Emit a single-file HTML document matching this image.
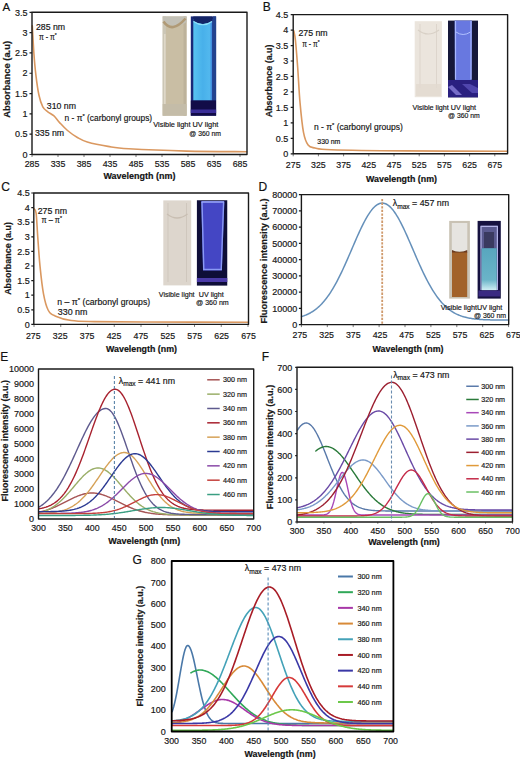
<!DOCTYPE html>
<html><head><meta charset="utf-8"><style>
html,body{margin:0;padding:0;background:#fff;}
body{width:520px;height:759px;overflow:hidden;}
svg{display:block;font-family:"Liberation Sans", sans-serif;}
</style></head><body>
<svg width="520" height="759" viewBox="0 0 520 759">
<defs>
<linearGradient id="visA" x1="0" x2="1" y1="0" y2="0"><stop offset="0" stop-color="#b9ab90"/><stop offset="0.15" stop-color="#d8ccb4"/><stop offset="0.5" stop-color="#cbbd9f"/><stop offset="1" stop-color="#bcae92"/></linearGradient>
<linearGradient id="uvA" x1="0" x2="1" y1="0" y2="0"><stop offset="0" stop-color="#58c4f0"/><stop offset="0.5" stop-color="#48b0ea"/><stop offset="0.85" stop-color="#52b8ee"/><stop offset="1" stop-color="#3a80d8"/></linearGradient>
<linearGradient id="visB" x1="0" x2="1" y1="0" y2="0"><stop offset="0" stop-color="#e2dad4"/><stop offset="0.5" stop-color="#efebe6"/><stop offset="1" stop-color="#e2dbd5"/></linearGradient>
<linearGradient id="uvB" x1="0" x2="1" y1="0" y2="0"><stop offset="0" stop-color="#6a88f0"/><stop offset="0.5" stop-color="#4a5ad0"/><stop offset="1" stop-color="#7090f0"/></linearGradient>
<linearGradient id="visC" x1="0" x2="1" y1="0" y2="0"><stop offset="0" stop-color="#d6cec4"/><stop offset="0.5" stop-color="#e2dbd2"/><stop offset="1" stop-color="#d6cfc6"/></linearGradient>
<linearGradient id="uvC" x1="0" x2="1" y1="0" y2="0"><stop offset="0" stop-color="#7088f0"/><stop offset="0.5" stop-color="#4450d0"/><stop offset="1" stop-color="#7088f0"/></linearGradient>
<linearGradient id="uvD" x1="0" x2="0" y1="0" y2="1"><stop offset="0" stop-color="#58a6be"/><stop offset="0.75" stop-color="#6ab4c8"/><stop offset="1" stop-color="#d0eef4"/></linearGradient>
</defs>
<text x="2.4" y="10.9" font-size="11.5" fill="#111" stroke="#111" stroke-width="0.18">A</text>
<text x="27.6" y="15.54" font-size="9" text-anchor="end" fill="#161616" stroke="#161616" stroke-width="0.18">3.5</text>
<text x="27.6" y="35.85" font-size="9" text-anchor="end" fill="#161616" stroke="#161616" stroke-width="0.18">3</text>
<text x="27.6" y="56.17" font-size="9" text-anchor="end" fill="#161616" stroke="#161616" stroke-width="0.18">2.5</text>
<text x="27.6" y="76.48" font-size="9" text-anchor="end" fill="#161616" stroke="#161616" stroke-width="0.18">2</text>
<text x="27.6" y="96.8" font-size="9" text-anchor="end" fill="#161616" stroke="#161616" stroke-width="0.18">1.5</text>
<text x="27.6" y="117.11" font-size="9" text-anchor="end" fill="#161616" stroke="#161616" stroke-width="0.18">1</text>
<text x="27.6" y="137.43" font-size="9" text-anchor="end" fill="#161616" stroke="#161616" stroke-width="0.18">0.5</text>
<text x="27.6" y="157.74" font-size="9" text-anchor="end" fill="#161616" stroke="#161616" stroke-width="0.18">0</text>
<path d="M29.5 12.3H32M29.5 32.61H32M29.5 52.93H32M29.5 73.24H32M29.5 93.56H32M29.5 113.87H32M29.5 134.19H32M29.5 154.5H32" stroke="#1a1a1a" stroke-width="1.2"/>
<text x="32" y="166.67" font-size="8.8" text-anchor="middle" fill="#161616" stroke="#161616" stroke-width="0.18">285</text>
<text x="58" y="166.67" font-size="8.8" text-anchor="middle" fill="#161616" stroke="#161616" stroke-width="0.18">335</text>
<text x="84" y="166.67" font-size="8.8" text-anchor="middle" fill="#161616" stroke="#161616" stroke-width="0.18">385</text>
<text x="110" y="166.67" font-size="8.8" text-anchor="middle" fill="#161616" stroke="#161616" stroke-width="0.18">435</text>
<text x="136" y="166.67" font-size="8.8" text-anchor="middle" fill="#161616" stroke="#161616" stroke-width="0.18">485</text>
<text x="162" y="166.67" font-size="8.8" text-anchor="middle" fill="#161616" stroke="#161616" stroke-width="0.18">535</text>
<text x="188" y="166.67" font-size="8.8" text-anchor="middle" fill="#161616" stroke="#161616" stroke-width="0.18">585</text>
<text x="214" y="166.67" font-size="8.8" text-anchor="middle" fill="#161616" stroke="#161616" stroke-width="0.18">635</text>
<text x="240" y="166.67" font-size="8.8" text-anchor="middle" fill="#161616" stroke="#161616" stroke-width="0.18">685</text>
<path d="M32 154.5V157M58 154.5V157M84 154.5V157M110 154.5V157M136 154.5V157M162 154.5V157M188 154.5V157M214 154.5V157M240 154.5V157" stroke="#555" stroke-width="0.8"/>
<text x="139.4" y="179" font-size="9" text-anchor="middle" font-weight="bold" textLength="72" lengthAdjust="spacingAndGlyphs" fill="#111" stroke="#111" stroke-width="0.18">Wavelength (nm)</text>
<text transform="translate(10.25 79.3) rotate(-90)" x="0" y="0" font-size="8.8" font-weight="bold" text-anchor="middle" fill="#1a1a1a" stroke="#1a1a1a" stroke-width="0.2" textLength="76.8" lengthAdjust="spacingAndGlyphs">Absorbance (a.u)</text>
<rect x="162.7" y="16.4" width="23.8" height="99.3" fill="#c9bea4"/>
<rect x="162.7" y="16.4" width="3.2" height="99.3" fill="#cbc6b6"/>
<rect x="183.5" y="16.4" width="3" height="99.3" fill="#bdb29a"/>
<rect x="164.2" y="34" width="1.3" height="70" fill="#e4dccb"/>
<path d="M162.7 16.4H186.5V22Q175 31 163 21Z" fill="#c2c0b6"/>
<path d="M163.5 21.5Q172 34 185.5 18.5" fill="none" stroke="#b09a76" stroke-width="2.6"/>
<rect x="162.7" y="104" width="23.8" height="11.7" fill="#c4bca8"/>
<rect x="190.8" y="16.4" width="25.3" height="99.3" fill="#1a2a78"/>
<rect x="213" y="16.4" width="3.1" height="84" fill="#22428e"/>
<rect x="193.3" y="19" width="19" height="81.5" fill="url(#uvA)"/>
<path d="M193.3 16.4H212.3V21Q203 27 193.3 21Z" fill="#142466"/>
<path d="M193.5 21.5Q203 28 212 21.5" fill="none" stroke="#8ee0f8" stroke-width="1.2"/>
<rect x="190.8" y="100.5" width="25.3" height="15.2" fill="#120c48"/>
<rect x="190.8" y="109.5" width="25.3" height="3.5" fill="#3a2e98"/>
<path d="M32.3 25.8C32.57 30.42 33.3 45.27 33.9 53.5C34.5 61.73 35.07 68.28 35.9 75.2C36.73 82.12 37.75 89.73 38.9 95C40.05 100.27 41.32 104 42.8 106.8C44.28 109.6 45.98 110.32 47.8 111.8C49.62 113.28 51.73 113.9 53.7 115.7C55.67 117.5 57.3 120.13 59.6 122.6C61.9 125.07 64.53 128.02 67.5 130.5C70.47 132.98 74.1 135.58 77.4 137.5C80.7 139.42 82.2 140.52 87.3 142C92.4 143.48 101.08 145.27 108 146.4C114.92 147.53 115.72 148.02 128.8 148.8C141.88 149.58 166.88 150.62 186.5 151.1C206.12 151.58 236.5 151.6 246.5 151.7" fill="none" stroke="#da9860" stroke-width="1.6" stroke-linejoin="round" stroke-linecap="round"/>
<path d="M32 12.3V154.5H247V12.3Z" fill="none" stroke="#1a1a1a" stroke-width="1.4" stroke-linejoin="round"/>
<text x="35.9" y="30" font-size="8.8" textLength="29.2" lengthAdjust="spacingAndGlyphs" fill="#161616" stroke="#161616" stroke-width="0.18">285 nm</text>
<text x="38.9" y="40" font-size="8.5" textLength="17.8" lengthAdjust="spacingAndGlyphs" fill="#161616" stroke="#161616" stroke-width="0.18">π - π<tspan font-size="6" dy="-3">*</tspan></text>
<text x="46.8" y="109" font-size="8.8" textLength="29.2" lengthAdjust="spacingAndGlyphs" fill="#161616" stroke="#161616" stroke-width="0.18">310 nm</text>
<text x="64.6" y="121" font-size="8.7" textLength="87.5" lengthAdjust="spacingAndGlyphs" fill="#161616" stroke="#161616" stroke-width="0.18">n - π<tspan font-size="6" dy="-3">*</tspan><tspan dy="3"> (carbonyl groups)</tspan></text>
<text x="34.9" y="136.2" font-size="8.8" textLength="29.2" lengthAdjust="spacingAndGlyphs" fill="#161616" stroke="#161616" stroke-width="0.18">335 nm</text>
<text x="153.3" y="127" font-size="7.4" textLength="65" lengthAdjust="spacingAndGlyphs" fill="#161616" stroke="#161616" stroke-width="0.18">Visible light UV light</text>
<text x="189.3" y="135.7" font-size="7.4" textLength="31.7" lengthAdjust="spacingAndGlyphs" fill="#161616" stroke="#161616" stroke-width="0.18">@ 360 nm</text>
<text x="262.8" y="10.8" font-size="12" fill="#111" stroke="#111" stroke-width="0.18">B</text>
<text x="288.3" y="17.84" font-size="9" text-anchor="end" fill="#161616" stroke="#161616" stroke-width="0.18">4.5</text>
<text x="288.3" y="33.31" font-size="9" text-anchor="end" fill="#161616" stroke="#161616" stroke-width="0.18">4</text>
<text x="288.3" y="48.77" font-size="9" text-anchor="end" fill="#161616" stroke="#161616" stroke-width="0.18">3.5</text>
<text x="288.3" y="64.24" font-size="9" text-anchor="end" fill="#161616" stroke="#161616" stroke-width="0.18">3</text>
<text x="288.3" y="79.71" font-size="9" text-anchor="end" fill="#161616" stroke="#161616" stroke-width="0.18">2.5</text>
<text x="288.3" y="95.17" font-size="9" text-anchor="end" fill="#161616" stroke="#161616" stroke-width="0.18">2</text>
<text x="288.3" y="110.64" font-size="9" text-anchor="end" fill="#161616" stroke="#161616" stroke-width="0.18">1.5</text>
<text x="288.3" y="126.11" font-size="9" text-anchor="end" fill="#161616" stroke="#161616" stroke-width="0.18">1</text>
<text x="288.3" y="141.57" font-size="9" text-anchor="end" fill="#161616" stroke="#161616" stroke-width="0.18">0.5</text>
<text x="288.3" y="157.04" font-size="9" text-anchor="end" fill="#161616" stroke="#161616" stroke-width="0.18">0</text>
<path d="M290.7 14.6H293.2M290.7 30.07H293.2M290.7 45.53H293.2M290.7 61H293.2M290.7 76.47H293.2M290.7 91.93H293.2M290.7 107.4H293.2M290.7 122.87H293.2M290.7 138.33H293.2M290.7 153.8H293.2" stroke="#1a1a1a" stroke-width="1.2"/>
<text x="293.2" y="167.77" font-size="8.8" text-anchor="middle" fill="#161616" stroke="#161616" stroke-width="0.18">275</text>
<text x="318.4" y="167.77" font-size="8.8" text-anchor="middle" fill="#161616" stroke="#161616" stroke-width="0.18">325</text>
<text x="343.6" y="167.77" font-size="8.8" text-anchor="middle" fill="#161616" stroke="#161616" stroke-width="0.18">375</text>
<text x="368.8" y="167.77" font-size="8.8" text-anchor="middle" fill="#161616" stroke="#161616" stroke-width="0.18">425</text>
<text x="394" y="167.77" font-size="8.8" text-anchor="middle" fill="#161616" stroke="#161616" stroke-width="0.18">475</text>
<text x="419.2" y="167.77" font-size="8.8" text-anchor="middle" fill="#161616" stroke="#161616" stroke-width="0.18">525</text>
<text x="444.4" y="167.77" font-size="8.8" text-anchor="middle" fill="#161616" stroke="#161616" stroke-width="0.18">575</text>
<text x="469.6" y="167.77" font-size="8.8" text-anchor="middle" fill="#161616" stroke="#161616" stroke-width="0.18">625</text>
<text x="494.8" y="167.77" font-size="8.8" text-anchor="middle" fill="#161616" stroke="#161616" stroke-width="0.18">675</text>
<path d="M293.2 153.8V156.3M318.4 153.8V156.3M343.6 153.8V156.3M368.8 153.8V156.3M394 153.8V156.3M419.2 153.8V156.3M444.4 153.8V156.3M469.6 153.8V156.3M494.8 153.8V156.3" stroke="#555" stroke-width="0.8"/>
<text x="401.5" y="181.5" font-size="9" text-anchor="middle" font-weight="bold" textLength="71" lengthAdjust="spacingAndGlyphs" fill="#111" stroke="#111" stroke-width="0.18">Wavelength (nm)</text>
<text transform="translate(271.6 80.9) rotate(-90)" x="0" y="0" font-size="8.8" font-weight="bold" text-anchor="middle" fill="#1a1a1a" stroke="#1a1a1a" stroke-width="0.2" textLength="72.8" lengthAdjust="spacingAndGlyphs">Absorbance (a.u)</text>
<rect x="414.7" y="21.2" width="27.2" height="76" fill="#ebe5dd"/>
<path d="M420 24V88M436.5 24V88" stroke="#ddd5cc" stroke-width="1"/>
<path d="M418 30Q428 38 439 30" fill="none" stroke="#d8d0c6" stroke-width="1.2"/>
<rect x="416" y="84" width="25" height="12" fill="#e2dad0" opacity="0.8"/>
<rect x="448" y="20.6" width="30" height="76.7" fill="#16183a"/>
<path d="M454.6 20.6H471.9L471.5 80H455Z" fill="#6878e0"/>
<path d="M455.5 21V79.5M471 21V79.5" stroke="#a8b8ff" stroke-width="1.2"/>
<path d="M456 32Q463 37 470.5 32" fill="none" stroke="#b0c0ff" stroke-width="1"/>
<rect x="448" y="80" width="30" height="17.3" fill="#2a2080"/>
<path d="M448 87L456 95H462L452 85Z" fill="#8a80d8" opacity="0.8"/>
<path d="M462 84L472 93H478V88L470 84Z" fill="#5a50b8" opacity="0.8"/>
<path d="M293.8 30.8C294.07 32.33 294.75 33.85 295.4 40C296.05 46.15 296.93 57.3 297.7 67.7C298.47 78.1 299.03 91.62 300 102.4C300.97 113.18 302.15 125.3 303.5 132.4C304.85 139.5 306.18 142.4 308.1 145C310.02 147.6 311.15 147.22 315 148C318.85 148.78 316.2 149.22 331.2 149.7C346.2 150.18 375.7 150.63 405 150.9C434.3 151.17 490 151.23 507 151.3" fill="none" stroke="#da9860" stroke-width="1.6" stroke-linejoin="round" stroke-linecap="round"/>
<path d="M293.2 14.6V153.8H507.6V14.6Z" fill="none" stroke="#1a1a1a" stroke-width="1.4" stroke-linejoin="round"/>
<text x="298.4" y="36.3" font-size="8.8" textLength="29.3" lengthAdjust="spacingAndGlyphs" fill="#161616" stroke="#161616" stroke-width="0.18">275 nm</text>
<text x="302.3" y="46.8" font-size="8.5" textLength="17.3" lengthAdjust="spacingAndGlyphs" fill="#161616" stroke="#161616" stroke-width="0.18">π - π<tspan font-size="6" dy="-3">*</tspan></text>
<text x="313.9" y="129.8" font-size="8.7" textLength="88.9" lengthAdjust="spacingAndGlyphs" fill="#161616" stroke="#161616" stroke-width="0.18">n - π<tspan font-size="6" dy="-3">*</tspan><tspan dy="3"> (carbonyl groups)</tspan></text>
<text x="317.3" y="143.8" font-size="6.8" textLength="23" lengthAdjust="spacingAndGlyphs" fill="#161616" stroke="#161616" stroke-width="0.18">330 nm</text>
<text x="412.5" y="110" font-size="7.4" textLength="63.5" lengthAdjust="spacingAndGlyphs" fill="#161616" stroke="#161616" stroke-width="0.18">Visible light UV light</text>
<text x="448" y="118.2" font-size="7.4" textLength="31.8" lengthAdjust="spacingAndGlyphs" fill="#161616" stroke="#161616" stroke-width="0.18">@ 360 nm</text>
<text x="1.3" y="190.8" font-size="12" fill="#111" stroke="#111" stroke-width="0.18">C</text>
<text x="29.8" y="196.24" font-size="9" text-anchor="end" fill="#161616" stroke="#161616" stroke-width="0.18">4.5</text>
<text x="29.8" y="210.84" font-size="9" text-anchor="end" fill="#161616" stroke="#161616" stroke-width="0.18">4</text>
<text x="29.8" y="225.44" font-size="9" text-anchor="end" fill="#161616" stroke="#161616" stroke-width="0.18">3.5</text>
<text x="29.8" y="240.04" font-size="9" text-anchor="end" fill="#161616" stroke="#161616" stroke-width="0.18">3</text>
<text x="29.8" y="254.64" font-size="9" text-anchor="end" fill="#161616" stroke="#161616" stroke-width="0.18">2.5</text>
<text x="29.8" y="269.24" font-size="9" text-anchor="end" fill="#161616" stroke="#161616" stroke-width="0.18">2</text>
<text x="29.8" y="283.84" font-size="9" text-anchor="end" fill="#161616" stroke="#161616" stroke-width="0.18">1.5</text>
<text x="29.8" y="298.44" font-size="9" text-anchor="end" fill="#161616" stroke="#161616" stroke-width="0.18">1</text>
<text x="29.8" y="313.04" font-size="9" text-anchor="end" fill="#161616" stroke="#161616" stroke-width="0.18">0.5</text>
<text x="29.8" y="327.64" font-size="9" text-anchor="end" fill="#161616" stroke="#161616" stroke-width="0.18">0</text>
<path d="M31.3 193H33.8M31.3 207.6H33.8M31.3 222.2H33.8M31.3 236.8H33.8M31.3 251.4H33.8M31.3 266H33.8M31.3 280.6H33.8M31.3 295.2H33.8M31.3 309.8H33.8M31.3 324.4H33.8" stroke="#1a1a1a" stroke-width="1.2"/>
<text x="33.3" y="338.67" font-size="8.8" text-anchor="middle" fill="#161616" stroke="#161616" stroke-width="0.18">275</text>
<text x="60.2" y="338.67" font-size="8.8" text-anchor="middle" fill="#161616" stroke="#161616" stroke-width="0.18">325</text>
<text x="87.1" y="338.67" font-size="8.8" text-anchor="middle" fill="#161616" stroke="#161616" stroke-width="0.18">375</text>
<text x="114" y="338.67" font-size="8.8" text-anchor="middle" fill="#161616" stroke="#161616" stroke-width="0.18">425</text>
<text x="140.9" y="338.67" font-size="8.8" text-anchor="middle" fill="#161616" stroke="#161616" stroke-width="0.18">475</text>
<text x="167.8" y="338.67" font-size="8.8" text-anchor="middle" fill="#161616" stroke="#161616" stroke-width="0.18">525</text>
<text x="194.7" y="338.67" font-size="8.8" text-anchor="middle" fill="#161616" stroke="#161616" stroke-width="0.18">575</text>
<text x="221.6" y="338.67" font-size="8.8" text-anchor="middle" fill="#161616" stroke="#161616" stroke-width="0.18">625</text>
<text x="248.5" y="338.67" font-size="8.8" text-anchor="middle" fill="#161616" stroke="#161616" stroke-width="0.18">675</text>
<path d="M34 324.4V326.9M60.75 324.4V326.9M87.5 324.4V326.9M114.25 324.4V326.9M141 324.4V326.9M167.75 324.4V326.9M194.5 324.4V326.9M221.25 324.4V326.9M248 324.4V326.9" stroke="#555" stroke-width="0.8"/>
<text x="141.5" y="352" font-size="9" text-anchor="middle" font-weight="bold" textLength="71" lengthAdjust="spacingAndGlyphs" fill="#111" stroke="#111" stroke-width="0.18">Wavelength (nm)</text>
<text transform="translate(10.6 258.5) rotate(-90)" x="0" y="0" font-size="8.8" font-weight="bold" text-anchor="middle" fill="#1a1a1a" stroke="#1a1a1a" stroke-width="0.2" textLength="72.7" lengthAdjust="spacingAndGlyphs">Absorbance (a.u)</text>
<rect x="163.3" y="200.4" width="27.9" height="85" fill="#ddd6cd"/>
<path d="M168 203V282M186.5 203V282" stroke="#cfc7bd" stroke-width="1"/>
<path d="M167 214Q177 222 187.5 214" fill="none" stroke="#c8beb2" stroke-width="1.3"/>
<rect x="196.9" y="200.25" width="30.35" height="85.35" fill="#0e0e38"/>
<path d="M201.25 201H224.4L221.9 270.6H203Z" fill="#4446c4"/>
<path d="M202 202L203.8 270M223.6 202L221.2 270" stroke="#8a9af4" stroke-width="1.4"/>
<path d="M201.5 202H224" stroke="#9aa8f8" stroke-width="1.5"/>
<path d="M203 269.5H222" stroke="#8a9af4" stroke-width="1.5"/>
<rect x="196.9" y="278" width="30.35" height="4" fill="#4a3aa8"/>
<path d="M33.8 208.5C34.18 209.27 35.45 208.48 36.1 213.1C36.75 217.72 37.05 227.35 37.7 236.2C38.35 245.05 39.03 256.58 40 266.2C40.97 275.82 42.15 286.6 43.5 293.9C44.85 301.2 46.18 306.33 48.1 310C50.02 313.67 51.15 314.15 55 315.9C58.85 317.65 64.65 319.55 71.2 320.5C77.75 321.45 82 321.35 94.3 321.6C106.6 321.85 119.38 321.88 145 322C170.62 322.12 230.83 322.25 248 322.3" fill="none" stroke="#da9860" stroke-width="1.6" stroke-linejoin="round" stroke-linecap="round"/>
<path d="M33.8 193V324.4H248.5V193Z" fill="none" stroke="#1a1a1a" stroke-width="1.4" stroke-linejoin="round"/>
<text x="37.7" y="213.5" font-size="8.8" textLength="29.3" lengthAdjust="spacingAndGlyphs" fill="#161616" stroke="#161616" stroke-width="0.18">275 nm</text>
<text x="41.6" y="223.3" font-size="8.5" textLength="20.4" lengthAdjust="spacingAndGlyphs" fill="#161616" stroke="#161616" stroke-width="0.18">π – π<tspan font-size="6" dy="-3">*</tspan></text>
<text x="57.3" y="305.2" font-size="8.7" fill="#161616" stroke="#161616" stroke-width="0.18">n – π<tspan font-size="6" dy="-3">*</tspan><tspan dy="3"> (carbonyl groups)</tspan></text>
<text x="57.8" y="314.9" font-size="8.8" textLength="29.6" lengthAdjust="spacingAndGlyphs" fill="#161616" stroke="#161616" stroke-width="0.18">330 nm</text>
<text x="158.8" y="296.5" font-size="7.4" textLength="35.8" lengthAdjust="spacingAndGlyphs" fill="#161616" stroke="#161616" stroke-width="0.18">Visible light</text>
<text x="198.8" y="296.5" font-size="7.4" textLength="25" lengthAdjust="spacingAndGlyphs" fill="#161616" stroke="#161616" stroke-width="0.18">UV light</text>
<text x="196" y="304.7" font-size="7.4" textLength="32.7" lengthAdjust="spacingAndGlyphs" fill="#161616" stroke="#161616" stroke-width="0.18">@ 360 nm</text>
<text x="258.6" y="190.8" font-size="12" fill="#111" stroke="#111" stroke-width="0.18">D</text>
<text x="297.3" y="197.84" font-size="9" text-anchor="end" fill="#161616" stroke="#161616" stroke-width="0.18">80000</text>
<text x="297.3" y="214.09" font-size="9" text-anchor="end" fill="#161616" stroke="#161616" stroke-width="0.18">70000</text>
<text x="297.3" y="230.34" font-size="9" text-anchor="end" fill="#161616" stroke="#161616" stroke-width="0.18">60000</text>
<text x="297.3" y="246.59" font-size="9" text-anchor="end" fill="#161616" stroke="#161616" stroke-width="0.18">50000</text>
<text x="297.3" y="262.84" font-size="9" text-anchor="end" fill="#161616" stroke="#161616" stroke-width="0.18">40000</text>
<text x="297.3" y="279.09" font-size="9" text-anchor="end" fill="#161616" stroke="#161616" stroke-width="0.18">30000</text>
<text x="297.3" y="295.34" font-size="9" text-anchor="end" fill="#161616" stroke="#161616" stroke-width="0.18">20000</text>
<text x="297.3" y="311.59" font-size="9" text-anchor="end" fill="#161616" stroke="#161616" stroke-width="0.18">10000</text>
<text x="297.3" y="327.84" font-size="9" text-anchor="end" fill="#161616" stroke="#161616" stroke-width="0.18">0</text>
<path d="M298.9 194.6H301.4M298.9 210.85H301.4M298.9 227.1H301.4M298.9 243.35H301.4M298.9 259.6H301.4M298.9 275.85H301.4M298.9 292.1H301.4M298.9 308.35H301.4M298.9 324.6H301.4" stroke="#1a1a1a" stroke-width="1.2"/>
<text x="299.9" y="338.37" font-size="8.8" text-anchor="middle" fill="#161616" stroke="#161616" stroke-width="0.18">275</text>
<text x="326.59" y="338.37" font-size="8.8" text-anchor="middle" fill="#161616" stroke="#161616" stroke-width="0.18">325</text>
<text x="353.28" y="338.37" font-size="8.8" text-anchor="middle" fill="#161616" stroke="#161616" stroke-width="0.18">375</text>
<text x="379.97" y="338.37" font-size="8.8" text-anchor="middle" fill="#161616" stroke="#161616" stroke-width="0.18">425</text>
<text x="406.66" y="338.37" font-size="8.8" text-anchor="middle" fill="#161616" stroke="#161616" stroke-width="0.18">475</text>
<text x="433.35" y="338.37" font-size="8.8" text-anchor="middle" fill="#161616" stroke="#161616" stroke-width="0.18">525</text>
<text x="460.04" y="338.37" font-size="8.8" text-anchor="middle" fill="#161616" stroke="#161616" stroke-width="0.18">575</text>
<text x="486.73" y="338.37" font-size="8.8" text-anchor="middle" fill="#161616" stroke="#161616" stroke-width="0.18">625</text>
<text x="513.42" y="338.37" font-size="8.8" text-anchor="middle" fill="#161616" stroke="#161616" stroke-width="0.18">675</text>
<path d="M301.4 324.6V327.1M327.3 324.6V327.1M353.2 324.6V327.1M379.1 324.6V327.1M405 324.6V327.1M430.9 324.6V327.1M456.8 324.6V327.1M482.7 324.6V327.1M508.6 324.6V327.1" stroke="#555" stroke-width="0.8"/>
<text x="408" y="351.5" font-size="9" text-anchor="middle" font-weight="bold" textLength="71" lengthAdjust="spacingAndGlyphs" fill="#111" stroke="#111" stroke-width="0.18">Wavelength (nm)</text>
<text transform="translate(267 260.9) rotate(-90)" x="0" y="0" font-size="8.8" font-weight="bold" text-anchor="middle" fill="#1a1a1a" stroke="#1a1a1a" stroke-width="0.2" textLength="125" lengthAdjust="spacingAndGlyphs">Fluorescence intensity (a.u.)</text>
<rect x="449.2" y="220.9" width="20.7" height="77.7" fill="#c9c2b4"/>
<rect x="451.8" y="223" width="15.5" height="28" fill="#e6e4e0"/>
<path d="M452 250Q459.5 254 467.2 250V253H452Z" fill="#6a3a20"/>
<rect x="452" y="252.5" width="15.2" height="44.5" fill="#a2622a"/>
<rect x="477.6" y="220.9" width="23.2" height="77.7" fill="#161240"/>
<rect x="480.6" y="225.7" width="17.2" height="23" fill="#5a5a90"/>
<rect x="484" y="232" width="10" height="16" fill="#3a3a60"/>
<path d="M481 226V290M497.4 226V290M480.6 226.3H497.8" stroke="#b4b4e8" stroke-width="1.2"/>
<rect x="481.6" y="248.2" width="15.2" height="42" fill="url(#uvD)"/>
<rect x="478.5" y="290.5" width="21.5" height="6" fill="#3e2e8a" opacity="0.9"/>
<path d="M301.6 316.57L302.6 316.25L303.6 315.91L304.6 315.54L305.6 315.15L306.6 314.72L307.6 314.27L308.6 313.79L309.6 313.27L310.6 312.72L311.6 312.13L312.6 311.51L313.6 310.84L314.6 310.14L315.6 309.39L316.6 308.6L317.6 307.77L318.6 306.89L319.6 305.96L320.6 304.98L321.6 303.95L322.6 302.87L323.6 301.74L324.6 300.56L325.6 299.32L326.6 298.02L327.6 296.67L328.6 295.27L329.6 293.8L330.6 292.29L331.6 290.71L332.6 289.08L333.6 287.4L334.6 285.66L335.6 283.87L336.6 282.02L337.6 280.13L338.6 278.18L339.6 276.19L340.6 274.15L341.6 272.07L342.6 269.95L343.6 267.79L344.6 265.6L345.6 263.37L346.6 261.12L347.6 258.85L348.6 256.55L349.6 254.25L350.6 251.93L351.6 249.6L352.6 247.27L353.6 244.95L354.6 242.64L355.6 240.34L356.6 238.06L357.6 235.81L358.6 233.59L359.6 231.4L360.6 229.26L361.6 227.17L362.6 225.13L363.6 223.15L364.6 221.23L365.6 219.39L366.6 217.62L367.6 215.93L368.6 214.33L369.6 212.82L370.6 211.4L371.6 210.08L372.6 208.87L373.6 207.76L374.6 206.77L375.6 205.89L376.6 205.13L377.6 204.48L378.6 203.96L379.6 203.56L380.6 203.28L381.6 203.13L382.6 203.11L383.6 203.21L384.6 203.43L385.6 203.78L386.6 204.26L387.6 204.85L388.6 205.57L389.6 206.4L390.6 207.35L391.6 208.41L392.6 209.58L393.6 210.86L394.6 212.24L395.6 213.71L396.6 215.28L397.6 216.93L398.6 218.67L399.6 220.49L400.6 222.37L401.6 224.33L402.6 226.35L403.6 228.42L404.6 230.54L405.6 232.71L406.6 234.92L407.6 237.16L408.6 239.43L409.6 241.72L410.6 244.03L411.6 246.35L412.6 248.67L413.6 251L414.6 253.32L415.6 255.63L416.6 257.93L417.6 260.22L418.6 262.48L419.6 264.71L420.6 266.92L421.6 269.09L422.6 271.23L423.6 273.32L424.6 275.38L425.6 277.39L426.6 279.35L427.6 281.27L428.6 283.14L429.6 284.95L430.6 286.71L431.6 288.42L432.6 290.07L433.6 291.66L434.6 293.2L435.6 294.69L436.6 296.12L437.6 297.49L438.6 298.8L439.6 300.07L440.6 301.27L441.6 302.43L442.6 303.53L443.6 304.57L444.6 305.57L445.6 306.52L446.6 307.42L447.6 308.27L448.6 309.08L449.6 309.85L450.6 310.57L451.6 311.25L452.6 311.89L453.6 312.49L454.6 313.05L455.6 313.58L456.6 314.08L457.6 314.55L458.6 314.98L459.6 315.39L460.6 315.76L461.6 316.12L462.6 316.44L463.6 316.75L464.6 317.03L465.6 317.29L466.6 317.53L467.6 317.76L468.6 317.96L469.6 318.15L470.6 318.33L471.6 318.49L472.6 318.64L473.6 318.77L474.6 318.9L475.6 319.01L476.6 319.12L477.6 319.21L478.6 319.3L479.6 319.38L480.6 319.45L481.6 319.52L482.6 319.58L483.6 319.63L484.6 319.68L485.6 319.72L486.6 319.76L487.6 319.8L488.6 319.83L489.6 319.86L490.6 319.89L491.6 319.91L492.6 319.93L493.6 319.95L494.6 319.97L495.6 319.98L496.6 320L497.6 320.01L498.6 320.02L499.6 320.03L500.6 320.04L501.6 320.04L502.6 320.05L503.6 320.06L504.6 320.06L505.6 320.07L506.6 320.07L507.6 320.07L508.5 320.08" fill="none" stroke="#6590ba" stroke-width="1.5" stroke-linejoin="round" stroke-linecap="round"/>
<path d="M382.2 199V324" stroke="#cf9a6c" stroke-width="1.8" stroke-dasharray="2.3 1.3"/>
<path d="M301.4 194.6V324.6H508.7V194.6Z" fill="none" stroke="#1a1a1a" stroke-width="1.4" stroke-linejoin="round"/>
<text x="392.8" y="206" font-size="8.8" fill="#161616" stroke="#161616" stroke-width="0.18">λ<tspan font-size="6.6" dy="2.5">max</tspan><tspan dy="-2.5"> = 457 nm</tspan></text>
<text x="440.7" y="309.5" font-size="7.4" textLength="61.5" lengthAdjust="spacingAndGlyphs" fill="#161616" stroke="#161616" stroke-width="0.18">Visible lightUV light</text>
<text x="473.9" y="317.8" font-size="7.4" textLength="32.2" lengthAdjust="spacingAndGlyphs" fill="#161616" stroke="#161616" stroke-width="0.18">@ 360 nm</text>
<text x="0.2" y="361" font-size="12" fill="#111" stroke="#111" stroke-width="0.18">E</text>
<text x="34" y="372.24" font-size="9" text-anchor="end" fill="#161616" stroke="#161616" stroke-width="0.18">10000</text>
<text x="34" y="387.24" font-size="9" text-anchor="end" fill="#161616" stroke="#161616" stroke-width="0.18">9000</text>
<text x="34" y="402.24" font-size="9" text-anchor="end" fill="#161616" stroke="#161616" stroke-width="0.18">8000</text>
<text x="34" y="417.24" font-size="9" text-anchor="end" fill="#161616" stroke="#161616" stroke-width="0.18">7000</text>
<text x="34" y="432.24" font-size="9" text-anchor="end" fill="#161616" stroke="#161616" stroke-width="0.18">6000</text>
<text x="34" y="447.24" font-size="9" text-anchor="end" fill="#161616" stroke="#161616" stroke-width="0.18">5000</text>
<text x="34" y="462.24" font-size="9" text-anchor="end" fill="#161616" stroke="#161616" stroke-width="0.18">4000</text>
<text x="34" y="477.24" font-size="9" text-anchor="end" fill="#161616" stroke="#161616" stroke-width="0.18">3000</text>
<text x="34" y="492.24" font-size="9" text-anchor="end" fill="#161616" stroke="#161616" stroke-width="0.18">2000</text>
<text x="34" y="507.24" font-size="9" text-anchor="end" fill="#161616" stroke="#161616" stroke-width="0.18">1000</text>
<text x="34" y="522.24" font-size="9" text-anchor="end" fill="#161616" stroke="#161616" stroke-width="0.18">0</text>
<text x="38.5" y="531.17" font-size="8.8" text-anchor="middle" fill="#161616" stroke="#161616" stroke-width="0.18">300</text>
<text x="65.4" y="531.17" font-size="8.8" text-anchor="middle" fill="#161616" stroke="#161616" stroke-width="0.18">350</text>
<text x="92.3" y="531.17" font-size="8.8" text-anchor="middle" fill="#161616" stroke="#161616" stroke-width="0.18">400</text>
<text x="119.2" y="531.17" font-size="8.8" text-anchor="middle" fill="#161616" stroke="#161616" stroke-width="0.18">450</text>
<text x="146.1" y="531.17" font-size="8.8" text-anchor="middle" fill="#161616" stroke="#161616" stroke-width="0.18">500</text>
<text x="173" y="531.17" font-size="8.8" text-anchor="middle" fill="#161616" stroke="#161616" stroke-width="0.18">550</text>
<text x="199.9" y="531.17" font-size="8.8" text-anchor="middle" fill="#161616" stroke="#161616" stroke-width="0.18">600</text>
<text x="226.8" y="531.17" font-size="8.8" text-anchor="middle" fill="#161616" stroke="#161616" stroke-width="0.18">650</text>
<text x="253.7" y="531.17" font-size="8.8" text-anchor="middle" fill="#161616" stroke="#161616" stroke-width="0.18">700</text>
<text x="144.3" y="543.7" font-size="9" text-anchor="middle" font-weight="bold" textLength="72" lengthAdjust="spacingAndGlyphs" fill="#111" stroke="#111" stroke-width="0.18">Wavelength (nm)</text>
<text transform="translate(8.45 440.7) rotate(-90)" x="0" y="0" font-size="8.8" font-weight="bold" text-anchor="middle" fill="#1a1a1a" stroke="#1a1a1a" stroke-width="0.2" textLength="121.5" lengthAdjust="spacingAndGlyphs">Fluorescence intensity (a.u.)</text>
<path d="M39 512.25L40 512.02L41 511.79L42 511.54L43 511.27L44 511L45 510.71L46 510.4L47 510.08L48 509.75L49 509.4L50 509.03L51 508.65L52 508.26L53 507.86L54 507.44L55 507.01L56 506.56L57 506.11L58 505.64L59 505.17L60 504.68L61 504.19L62 503.69L63 503.19L64 502.68L65 502.17L66 501.66L67 501.14L68 500.63L69 500.12L70 499.62L71 499.12L72 498.63L73 498.16L74 497.69L75 497.23L76 496.8L77 496.37L78 495.97L79 495.59L80 495.22L81 494.88L82 494.57L83 494.28L84 494.02L85 493.78L86 493.58L87 493.4L88 493.26L89 493.15L90 493.06L91 493.02L92 493L93 493.02L94 493.06L95 493.15L96 493.26L97 493.4L98 493.58L99 493.78L100 494.02L101 494.28L102 494.57L103 494.88L104 495.22L105 495.59L106 495.97L107 496.37L108 496.8L109 497.23L110 497.69L111 498.16L112 498.63L113 499.12L114 499.62L115 500.12L116 500.63L117 501.14L118 501.66L119 502.17L120 502.68L121 503.19L122 503.69L123 504.19L124 504.68L125 505.17L126 505.64L127 506.11L128 506.56L129 507.01L130 507.44L131 507.86L132 508.26L133 508.65L134 509.03L135 509.4L136 509.75L137 510.08L138 510.4L139 510.71L140 511L141 511.27L142 511.54L143 511.79L144 512.02L145 512.25L146 512.45L147 512.65L148 512.84L149 513.01L150 513.17L151 513.32L152 513.47L153 513.6L154 513.72L155 513.83L156 513.94L157 514.03L158 514.12L159 514.2L160 514.28L161 514.35L162 514.41L163 514.47L164 514.52L165 514.57L166 514.62L167 514.66L168 514.69L169 514.73L170 514.76L171 514.78L172 514.81L173 514.83L174 514.85L175 514.87L176 514.88L177 514.89L178 514.91L179 514.92L180 514.93L181 514.94L182 514.94L183 514.95L184 514.96L185 514.96L186 514.97L187 514.97L188 514.98L189 514.98L190 514.98L191 514.98L192 514.99L193 514.99L194 514.99L195 514.99L196 514.99L197 514.99L198 514.99L199 515L200 515L201 515L202 515L203 515L204 515L205 515L206 515L207 515L208 515L209 515L210 515L211 515L212 515L213 515L214 515L215 515L216 515L217 515L218 515L219 515L220 515L221 515L222 515L223 515L224 515L225 515L226 515L227 515L228 515L229 515L230 515L231 515L232 515L233 515L234 515L235 515L236 515L237 515L238 515L239 515L240 515L241 515L242 515L243 515L244 515L245 515L246 515L247 515L248 515L249 515L250 515L251 515L252 515L253 515L253.2 515" fill="none" stroke="#a65454" stroke-width="1.4" stroke-linejoin="round" stroke-linecap="round"/>
<path d="M39 512.71L40 512.47L41 512.2L42 511.91L43 511.6L44 511.26L45 510.9L46 510.51L47 510.08L48 509.63L49 509.15L50 508.64L51 508.09L52 507.51L53 506.9L54 506.25L55 505.56L56 504.84L57 504.08L58 503.28L59 502.45L60 501.58L61 500.68L62 499.74L63 498.77L64 497.77L65 496.74L66 495.68L67 494.59L68 493.48L69 492.35L70 491.2L71 490.04L72 488.86L73 487.68L74 486.49L75 485.31L76 484.12L77 482.95L78 481.79L79 480.64L80 479.52L81 478.43L82 477.37L83 476.34L84 475.35L85 474.41L86 473.52L87 472.69L88 471.91L89 471.19L90 470.54L91 469.96L92 469.45L93 469.01L94 468.65L95 468.37L96 468.16L97 468.04L98 468L99 468.04L100 468.16L101 468.37L102 468.65L103 469.01L104 469.45L105 469.96L106 470.54L107 471.19L108 471.91L109 472.69L110 473.52L111 474.41L112 475.35L113 476.34L114 477.37L115 478.43L116 479.52L117 480.64L118 481.79L119 482.95L120 484.12L121 485.31L122 486.49L123 487.68L124 488.86L125 490.04L126 491.2L127 492.35L128 493.48L129 494.59L130 495.68L131 496.74L132 497.77L133 498.77L134 499.74L135 500.68L136 501.58L137 502.45L138 503.28L139 504.08L140 504.84L141 505.56L142 506.25L143 506.9L144 507.51L145 508.09L146 508.64L147 509.15L148 509.63L149 510.08L150 510.51L151 510.9L152 511.26L153 511.6L154 511.91L155 512.2L156 512.47L157 512.71L158 512.93L159 513.14L160 513.33L161 513.5L162 513.66L163 513.8L164 513.93L165 514.05L166 514.15L167 514.25L168 514.33L169 514.41L170 514.48L171 514.54L172 514.59L173 514.64L174 514.69L175 514.73L176 514.76L177 514.79L178 514.82L179 514.84L180 514.86L181 514.88L182 514.9L183 514.91L184 514.92L185 514.93L186 514.94L187 514.95L188 514.96L189 514.96L190 514.97L191 514.97L192 514.98L193 514.98L194 514.98L195 514.99L196 514.99L197 514.99L198 514.99L199 514.99L200 514.99L201 515L202 515L203 515L204 515L205 515L206 515L207 515L208 515L209 515L210 515L211 515L212 515L213 515L214 515L215 515L216 515L217 515L218 515L219 515L220 515L221 515L222 515L223 515L224 515L225 515L226 515L227 515L228 515L229 515L230 515L231 515L232 515L233 515L234 515L235 515L236 515L237 515L238 515L239 515L240 515L241 515L242 515L243 515L244 515L245 515L246 515L247 515L248 515L249 515L250 515L251 515L252 515L253 515L253.2 515" fill="none" stroke="#9aae68" stroke-width="1.4" stroke-linejoin="round" stroke-linecap="round"/>
<path d="M39 507.03L40 506.42L41 505.77L42 505.07L43 504.34L44 503.56L45 502.73L46 501.85L47 500.93L48 499.96L49 498.93L50 497.85L51 496.72L52 495.53L53 494.29L54 493L55 491.64L56 490.24L57 488.77L58 487.25L59 485.67L60 484.04L61 482.36L62 480.62L63 478.83L64 476.99L65 475.1L66 473.17L67 471.19L68 469.17L69 467.12L70 465.03L71 462.9L72 460.76L73 458.59L74 456.4L75 454.19L76 451.98L77 449.76L78 447.55L79 445.34L80 443.14L81 440.96L82 438.81L83 436.68L84 434.59L85 432.54L86 430.54L87 428.59L88 426.7L89 424.87L90 423.12L91 421.44L92 419.85L93 418.34L94 416.92L95 415.6L96 414.38L97 413.27L98 412.27L99 411.37L100 410.6L101 409.94L102 409.41L103 408.99L104 408.7L105 408.54L106 408.5L107 408.66L108 409.03L109 409.62L110 410.41L111 411.42L112 412.63L113 414.03L114 415.61L115 417.37L116 419.3L117 421.38L118 423.61L119 425.96L120 428.43L121 431.01L122 433.67L123 436.41L124 439.22L125 442.07L126 444.96L127 447.87L128 450.79L129 453.71L130 456.62L131 459.5L132 462.34L133 465.14L134 467.89L135 470.57L136 473.18L137 475.72L138 478.18L139 480.55L140 482.84L141 485.03L142 487.12L143 489.12L144 491.02L145 492.83L146 494.54L147 496.15L148 497.66L149 499.08L150 500.41L151 501.66L152 502.81L153 503.89L154 504.88L155 505.8L156 506.65L157 507.43L158 508.15L159 508.8L160 509.4L161 509.95L162 510.44L163 510.89L164 511.3L165 511.66L166 511.99L167 512.29L168 512.55L169 512.79L170 513L171 513.19L172 513.35L173 513.5L174 513.63L175 513.75L176 513.85L177 513.94L178 514.01L179 514.08L180 514.14L181 514.19L182 514.24L183 514.28L184 514.31L185 514.34L186 514.36L187 514.38L188 514.4L189 514.42L190 514.43L191 514.44L192 514.45L193 514.46L194 514.47L195 514.47L196 514.48L197 514.48L198 514.48L199 514.49L200 514.49L201 514.49L202 514.49L203 514.49L204 514.5L205 514.5L206 514.5L207 514.5L208 514.5L209 514.5L210 514.5L211 514.5L212 514.5L213 514.5L214 514.5L215 514.5L216 514.5L217 514.5L218 514.5L219 514.5L220 514.5L221 514.5L222 514.5L223 514.5L224 514.5L225 514.5L226 514.5L227 514.5L228 514.5L229 514.5L230 514.5L231 514.5L232 514.5L233 514.5L234 514.5L235 514.5L236 514.5L237 514.5L238 514.5L239 514.5L240 514.5L241 514.5L242 514.5L243 514.5L244 514.5L245 514.5L246 514.5L247 514.5L248 514.5L249 514.5L250 514.5L251 514.5L252 514.5L253 514.5L253.2 514.5" fill="none" stroke="#5e5a8e" stroke-width="1.4" stroke-linejoin="round" stroke-linecap="round"/>
<path d="M39 508.77L40 508.6L41 508.4L42 508.19L43 507.95L44 507.69L45 507.4L46 507.09L47 506.74L48 506.37L49 505.95L50 505.5L51 505.01L52 504.48L53 503.9L54 503.28L55 502.6L56 501.88L57 501.09L58 500.25L59 499.35L60 498.38L61 497.35L62 496.24L63 495.07L64 493.82L65 492.5L66 491.1L67 489.62L68 488.06L69 486.42L70 484.7L71 482.89L72 481L73 479.03L74 476.98L75 474.84L76 472.63L77 470.34L78 467.97L79 465.53L80 463.03L81 460.46L82 457.83L83 455.14L84 452.41L85 449.63L86 446.82L87 443.98L88 441.12L89 438.25L90 435.37L91 432.5L92 429.64L93 426.8L94 424L95 421.24L96 418.53L97 415.88L98 413.31L99 410.82L100 408.42L101 406.13L102 403.95L103 401.88L104 399.95L105 398.16L106 396.51L107 395.01L108 393.67L109 392.5L110 391.5L111 390.68L112 390.03L113 389.57L114 389.29L115 389.2L116 389.3L117 389.62L118 390.14L119 390.87L120 391.8L121 392.92L122 394.24L123 395.74L124 397.42L125 399.26L126 401.26L127 403.42L128 405.71L129 408.13L130 410.67L131 413.31L132 416.05L133 418.86L134 421.75L135 424.7L136 427.69L137 430.71L138 433.75L139 436.81L140 439.87L141 442.91L142 445.94L143 448.93L144 451.89L145 454.8L146 457.66L147 460.46L148 463.18L149 465.84L150 468.42L151 470.92L152 473.33L153 475.65L154 477.89L155 480.03L156 482.08L157 484.03L158 485.89L159 487.66L160 489.34L161 490.92L162 492.42L163 493.82L164 495.15L165 496.39L166 497.55L167 498.63L168 499.64L169 500.57L170 501.44L171 502.25L172 502.99L173 503.67L174 504.31L175 504.88L176 505.41L177 505.9L178 506.34L179 506.74L180 507.11L181 507.44L182 507.74L183 508.01L184 508.26L185 508.48L186 508.68L187 508.86L188 509.01L189 509.16L190 509.28L191 509.4L192 509.5L193 509.58L194 509.66L195 509.73L196 509.79L197 509.85L198 509.89L199 509.94L200 509.97L201 510L202 510.03L203 510.05L204 510.08L205 510.09L206 510.11L207 510.12L208 510.13L209 510.14L210 510.15L211 510.16L212 510.17L213 510.17L214 510.18L215 510.18L216 510.18L217 510.19L218 510.19L219 510.19L220 510.19L221 510.19L222 510.19L223 510.2L224 510.2L225 510.2L226 510.2L227 510.2L228 510.2L229 510.2L230 510.2L231 510.2L232 510.2L233 510.2L234 510.2L235 510.2L236 510.2L237 510.2L238 510.2L239 510.2L240 510.2L241 510.2L242 510.2L243 510.2L244 510.2L245 510.2L246 510.2L247 510.2L248 510.2L249 510.2L250 510.2L251 510.2L252 510.2L253 510.2L253.2 510.2" fill="none" stroke="#a8222f" stroke-width="1.4" stroke-linejoin="round" stroke-linecap="round"/>
<path d="M39 513.32L40 513.29L41 513.26L42 513.23L43 513.19L44 513.14L45 513.1L46 513.04L47 512.98L48 512.91L49 512.84L50 512.75L51 512.66L52 512.56L53 512.44L54 512.32L55 512.18L56 512.02L57 511.85L58 511.67L59 511.47L60 511.24L61 511L62 510.74L63 510.45L64 510.14L65 509.8L66 509.44L67 509.05L68 508.62L69 508.17L70 507.68L71 507.16L72 506.6L73 506.01L74 505.38L75 504.7L76 503.99L77 503.24L78 502.44L79 501.6L80 500.72L81 499.79L82 498.82L83 497.81L84 496.76L85 495.66L86 494.52L87 493.34L88 492.12L89 490.86L90 489.57L91 488.24L92 486.89L93 485.5L94 484.09L95 482.66L96 481.21L97 479.75L98 478.28L99 476.8L100 475.32L101 473.84L102 472.38L103 470.92L104 469.49L105 468.08L106 466.7L107 465.36L108 464.05L109 462.79L110 461.59L111 460.44L112 459.35L113 458.32L114 457.37L115 456.49L116 455.69L117 454.98L118 454.35L119 453.81L120 453.35L121 453L122 452.74L123 452.57L124 452.5L125 452.54L126 452.69L127 452.97L128 453.36L129 453.87L130 454.49L131 455.22L132 456.06L133 456.99L134 458.02L135 459.14L136 460.34L137 461.61L138 462.96L139 464.37L140 465.83L141 467.34L142 468.89L143 470.47L144 472.08L145 473.71L146 475.35L147 476.99L148 478.64L149 480.27L150 481.89L151 483.49L152 485.07L153 486.61L154 488.12L155 489.6L156 491.03L157 492.42L158 493.76L159 495.06L160 496.3L161 497.49L162 498.63L163 499.71L164 500.74L165 501.72L166 502.64L167 503.51L168 504.33L169 505.1L170 505.82L171 506.49L172 507.11L173 507.69L174 508.23L175 508.73L176 509.19L177 509.61L178 510L179 510.36L180 510.68L181 510.98L182 511.25L183 511.49L184 511.72L185 511.92L186 512.1L187 512.26L188 512.41L189 512.54L190 512.65L191 512.76L192 512.85L193 512.93L194 513L195 513.07L196 513.12L197 513.17L198 513.22L199 513.26L200 513.29L201 513.32L202 513.35L203 513.37L204 513.39L205 513.4L206 513.42L207 513.43L208 513.44L209 513.45L210 513.46L211 513.46L212 513.47L213 513.47L214 513.48L215 513.48L216 513.49L217 513.49L218 513.49L219 513.49L220 513.49L221 513.49L222 513.5L223 513.5L224 513.5L225 513.5L226 513.5L227 513.5L228 513.5L229 513.5L230 513.5L231 513.5L232 513.5L233 513.5L234 513.5L235 513.5L236 513.5L237 513.5L238 513.5L239 513.5L240 513.5L241 513.5L242 513.5L243 513.5L244 513.5L245 513.5L246 513.5L247 513.5L248 513.5L249 513.5L250 513.5L251 513.5L252 513.5L253 513.5L253.2 513.5" fill="none" stroke="#d6a258" stroke-width="1.4" stroke-linejoin="round" stroke-linecap="round"/>
<path d="M39 511.68L40 511.68L41 511.67L42 511.67L43 511.66L44 511.66L45 511.65L46 511.64L47 511.63L48 511.62L49 511.61L50 511.59L51 511.57L52 511.55L53 511.53L54 511.51L55 511.48L56 511.44L57 511.41L58 511.36L59 511.31L60 511.26L61 511.2L62 511.13L63 511.06L64 510.97L65 510.88L66 510.77L67 510.65L68 510.52L69 510.38L70 510.22L71 510.04L72 509.85L73 509.64L74 509.41L75 509.15L76 508.87L77 508.57L78 508.24L79 507.89L80 507.5L81 507.09L82 506.64L83 506.15L84 505.63L85 505.08L86 504.48L87 503.85L88 503.18L89 502.46L90 501.7L91 500.9L92 500.05L93 499.16L94 498.22L95 497.24L96 496.21L97 495.14L98 494.03L99 492.87L100 491.67L101 490.44L102 489.16L103 487.86L104 486.52L105 485.15L106 483.75L107 482.33L108 480.9L109 479.45L110 477.99L111 476.52L112 475.06L113 473.6L114 472.15L115 470.71L116 469.3L117 467.92L118 466.57L119 465.26L120 463.99L121 462.77L122 461.61L123 460.52L124 459.48L125 458.52L126 457.64L127 456.83L128 456.12L129 455.48L130 454.95L131 454.5L132 454.15L133 453.9L134 453.75L135 453.7L136 453.75L137 453.9L138 454.15L139 454.5L140 454.95L141 455.48L142 456.12L143 456.83L144 457.64L145 458.52L146 459.48L147 460.52L148 461.61L149 462.77L150 463.99L151 465.26L152 466.57L153 467.92L154 469.3L155 470.71L156 472.15L157 473.6L158 475.06L159 476.52L160 477.99L161 479.45L162 480.9L163 482.33L164 483.75L165 485.15L166 486.52L167 487.86L168 489.16L169 490.44L170 491.67L171 492.87L172 494.03L173 495.14L174 496.21L175 497.24L176 498.22L177 499.16L178 500.05L179 500.9L180 501.7L181 502.46L182 503.18L183 503.85L184 504.48L185 505.08L186 505.63L187 506.15L188 506.64L189 507.09L190 507.5L191 507.89L192 508.24L193 508.57L194 508.87L195 509.15L196 509.41L197 509.64L198 509.85L199 510.04L200 510.22L201 510.38L202 510.52L203 510.65L204 510.77L205 510.88L206 510.97L207 511.06L208 511.13L209 511.2L210 511.26L211 511.31L212 511.36L213 511.41L214 511.44L215 511.48L216 511.51L217 511.53L218 511.55L219 511.57L220 511.59L221 511.61L222 511.62L223 511.63L224 511.64L225 511.65L226 511.66L227 511.66L228 511.67L229 511.67L230 511.68L231 511.68L232 511.68L233 511.69L234 511.69L235 511.69L236 511.69L237 511.69L238 511.69L239 511.7L240 511.7L241 511.7L242 511.7L243 511.7L244 511.7L245 511.7L246 511.7L247 511.7L248 511.7L249 511.7L250 511.7L251 511.7L252 511.7L253 511.7L253.2 511.7" fill="none" stroke="#2b3a92" stroke-width="1.4" stroke-linejoin="round" stroke-linecap="round"/>
<path d="M39 513.4L40 513.4L41 513.4L42 513.4L43 513.4L44 513.4L45 513.39L46 513.39L47 513.39L48 513.39L49 513.39L50 513.39L51 513.38L52 513.38L53 513.38L54 513.37L55 513.37L56 513.36L57 513.36L58 513.35L59 513.34L60 513.33L61 513.32L62 513.31L63 513.3L64 513.28L65 513.26L66 513.24L67 513.22L68 513.19L69 513.16L70 513.13L71 513.09L72 513.05L73 513L74 512.94L75 512.88L76 512.82L77 512.74L78 512.66L79 512.57L80 512.47L81 512.36L82 512.23L83 512.1L84 511.95L85 511.78L86 511.61L87 511.41L88 511.2L89 510.97L90 510.72L91 510.45L92 510.16L93 509.84L94 509.51L95 509.14L96 508.75L97 508.34L98 507.9L99 507.42L100 506.92L101 506.39L102 505.83L103 505.24L104 504.62L105 503.97L106 503.29L107 502.57L108 501.83L109 501.05L110 500.25L111 499.42L112 498.56L113 497.68L114 496.77L115 495.84L116 494.9L117 493.93L118 492.95L119 491.96L120 490.96L121 489.95L122 488.94L123 487.93L124 486.92L125 485.92L126 484.94L127 483.97L128 483.02L129 482.09L130 481.19L131 480.33L132 479.49L133 478.7L134 477.95L135 477.25L136 476.6L137 476L138 475.46L139 474.97L140 474.55L141 474.19L142 473.9L143 473.67L144 473.51L145 473.42L146 473.4L147 473.45L148 473.57L149 473.75L150 474.01L151 474.33L152 474.71L153 475.16L154 475.67L155 476.23L156 476.85L157 477.53L158 478.25L159 479.01L160 479.82L161 480.67L162 481.55L163 482.46L164 483.4L165 484.35L166 485.33L167 486.32L168 487.32L169 488.33L170 489.34L171 490.35L172 491.36L173 492.36L174 493.34L175 494.32L176 495.28L177 496.22L178 497.14L179 498.04L180 498.91L181 499.76L182 500.58L183 501.37L184 502.13L185 502.86L186 503.56L187 504.23L188 504.87L189 505.48L190 506.06L191 506.61L192 507.13L193 507.62L194 508.08L195 508.51L196 508.91L197 509.29L198 509.64L199 509.97L200 510.28L201 510.56L202 510.82L203 511.06L204 511.29L205 511.49L206 511.68L207 511.85L208 512.01L209 512.15L210 512.28L211 512.4L212 512.51L213 512.61L214 512.69L215 512.77L216 512.85L217 512.91L218 512.97L219 513.02L220 513.06L221 513.1L222 513.14L223 513.17L224 513.2L225 513.23L226 513.25L227 513.27L228 513.29L229 513.3L230 513.32L231 513.33L232 513.34L233 513.35L234 513.35L235 513.36L236 513.37L237 513.37L238 513.38L239 513.38L240 513.38L241 513.38L242 513.39L243 513.39L244 513.39L245 513.39L246 513.39L247 513.39L248 513.4L249 513.4L250 513.4L251 513.4L252 513.4L253 513.4L253.2 513.4" fill="none" stroke="#8a4aa8" stroke-width="1.4" stroke-linejoin="round" stroke-linecap="round"/>
<path d="M39 513.6L40 513.6L41 513.6L42 513.6L43 513.6L44 513.6L45 513.6L46 513.6L47 513.6L48 513.6L49 513.6L50 513.6L51 513.6L52 513.6L53 513.6L54 513.6L55 513.6L56 513.6L57 513.6L58 513.6L59 513.6L60 513.6L61 513.6L62 513.6L63 513.6L64 513.6L65 513.6L66 513.6L67 513.6L68 513.59L69 513.59L70 513.59L71 513.59L72 513.59L73 513.59L74 513.58L75 513.58L76 513.58L77 513.57L78 513.57L79 513.56L80 513.56L81 513.55L82 513.54L83 513.53L84 513.52L85 513.5L86 513.49L87 513.47L88 513.45L89 513.43L90 513.4L91 513.37L92 513.34L93 513.31L94 513.26L95 513.22L96 513.17L97 513.11L98 513.05L99 512.98L100 512.9L101 512.81L102 512.72L103 512.61L104 512.5L105 512.37L106 512.24L107 512.09L108 511.93L109 511.75L110 511.56L111 511.36L112 511.14L113 510.91L114 510.66L115 510.39L116 510.11L117 509.81L118 509.49L119 509.16L120 508.8L121 508.43L122 508.04L123 507.64L124 507.22L125 506.78L126 506.33L127 505.87L128 505.39L129 504.9L130 504.4L131 503.89L132 503.38L133 502.86L134 502.34L135 501.81L136 501.29L137 500.77L138 500.26L139 499.75L140 499.26L141 498.78L142 498.31L143 497.86L144 497.43L145 497.03L146 496.65L147 496.29L148 495.97L149 495.67L150 495.41L151 495.18L152 494.99L153 494.84L154 494.72L155 494.64L156 494.6L157 494.6L158 494.64L159 494.72L160 494.84L161 494.99L162 495.18L163 495.41L164 495.67L165 495.97L166 496.29L167 496.65L168 497.03L169 497.43L170 497.86L171 498.31L172 498.78L173 499.26L174 499.75L175 500.26L176 500.77L177 501.29L178 501.81L179 502.34L180 502.86L181 503.38L182 503.89L183 504.4L184 504.9L185 505.39L186 505.87L187 506.33L188 506.78L189 507.22L190 507.64L191 508.04L192 508.43L193 508.8L194 509.16L195 509.49L196 509.81L197 510.11L198 510.39L199 510.66L200 510.91L201 511.14L202 511.36L203 511.56L204 511.75L205 511.93L206 512.09L207 512.24L208 512.37L209 512.5L210 512.61L211 512.72L212 512.81L213 512.9L214 512.98L215 513.05L216 513.11L217 513.17L218 513.22L219 513.26L220 513.31L221 513.34L222 513.37L223 513.4L224 513.43L225 513.45L226 513.47L227 513.49L228 513.5L229 513.52L230 513.53L231 513.54L232 513.55L233 513.56L234 513.56L235 513.57L236 513.57L237 513.58L238 513.58L239 513.58L240 513.59L241 513.59L242 513.59L243 513.59L244 513.59L245 513.59L246 513.6L247 513.6L248 513.6L249 513.6L250 513.6L251 513.6L252 513.6L253 513.6L253.2 513.6" fill="none" stroke="#c4403c" stroke-width="1.4" stroke-linejoin="round" stroke-linecap="round"/>
<path d="M39 515.5L40 515.5L41 515.5L42 515.5L43 515.5L44 515.5L45 515.5L46 515.5L47 515.5L48 515.5L49 515.5L50 515.5L51 515.5L52 515.5L53 515.5L54 515.49L55 515.49L56 515.49L57 515.49L58 515.49L59 515.49L60 515.49L61 515.49L62 515.48L63 515.48L64 515.48L65 515.48L66 515.48L67 515.47L68 515.47L69 515.46L70 515.46L71 515.46L72 515.45L73 515.44L74 515.44L75 515.43L76 515.42L77 515.41L78 515.4L79 515.39L80 515.38L81 515.37L82 515.35L83 515.34L84 515.32L85 515.3L86 515.28L87 515.26L88 515.24L89 515.21L90 515.18L91 515.15L92 515.12L93 515.09L94 515.05L95 515.01L96 514.97L97 514.92L98 514.87L99 514.82L100 514.77L101 514.71L102 514.64L103 514.58L104 514.51L105 514.43L106 514.35L107 514.27L108 514.18L109 514.09L110 514L111 513.9L112 513.79L113 513.68L114 513.57L115 513.45L116 513.33L117 513.2L118 513.07L119 512.93L120 512.79L121 512.65L122 512.5L123 512.35L124 512.19L125 512.03L126 511.87L127 511.71L128 511.54L129 511.37L130 511.2L131 511.03L132 510.86L133 510.68L134 510.51L135 510.34L136 510.16L137 509.99L138 509.82L139 509.66L140 509.49L141 509.33L142 509.18L143 509.02L144 508.88L145 508.73L146 508.6L147 508.47L148 508.34L149 508.22L150 508.12L151 508.01L152 507.92L153 507.84L154 507.76L155 507.69L156 507.64L157 507.59L158 507.55L159 507.52L160 507.51L161 507.5L162 507.5L163 507.52L164 507.54L165 507.57L166 507.62L167 507.67L168 507.73L169 507.8L170 507.89L171 507.98L172 508.07L173 508.18L174 508.29L175 508.41L176 508.54L177 508.68L178 508.82L179 508.96L180 509.11L181 509.27L182 509.43L183 509.59L184 509.76L185 509.93L186 510.1L187 510.27L188 510.44L189 510.61L190 510.79L191 510.96L192 511.13L193 511.3L194 511.47L195 511.64L196 511.8L197 511.97L198 512.13L199 512.28L200 512.44L201 512.59L202 512.73L203 512.87L204 513.01L205 513.15L206 513.28L207 513.4L208 513.52L209 513.64L210 513.75L211 513.85L212 513.96L213 514.05L214 514.15L215 514.24L216 514.32L217 514.4L218 514.48L219 514.55L220 514.62L221 514.68L222 514.74L223 514.8L224 514.85L225 514.9L226 514.95L227 514.99L228 515.04L229 515.07L230 515.11L231 515.14L232 515.17L233 515.2L234 515.23L235 515.25L236 515.27L237 515.3L238 515.31L239 515.33L240 515.35L241 515.36L242 515.38L243 515.39L244 515.4L245 515.41L246 515.42L247 515.43L248 515.43L249 515.44L250 515.45L251 515.45L252 515.46L253 515.46L253.2 515.46" fill="none" stroke="#3a9e82" stroke-width="1.4" stroke-linejoin="round" stroke-linecap="round"/>
<path d="M114.4 376V518" stroke="#5a84a8" stroke-width="1.1" stroke-dasharray="3 2"/>
<path d="M38.5 369V519H253.7V369Z" fill="none" stroke="#1a1a1a" stroke-width="1.4" stroke-linejoin="round"/>
<text x="118.8" y="383.5" font-size="8.8" fill="#161616" stroke="#161616" stroke-width="0.18">λ<tspan font-size="6.6" dy="2.5">max</tspan><tspan dy="-2.5"> = 441 nm</tspan></text>
<path d="M207.2 379.8H219.7" stroke="#a65454" stroke-width="1.5"/>
<text x="223.1" y="382.43" font-size="7.3" textLength="24" lengthAdjust="spacingAndGlyphs" fill="#161616" stroke="#161616" stroke-width="0.18">300 nm</text>
<path d="M207.2 394.14H219.7" stroke="#9aae68" stroke-width="1.5"/>
<text x="223.1" y="396.77" font-size="7.3" textLength="24" lengthAdjust="spacingAndGlyphs" fill="#161616" stroke="#161616" stroke-width="0.18">320 nm</text>
<path d="M207.2 408.48H219.7" stroke="#5e5a8e" stroke-width="1.5"/>
<text x="223.1" y="411.11" font-size="7.3" textLength="24" lengthAdjust="spacingAndGlyphs" fill="#161616" stroke="#161616" stroke-width="0.18">340 nm</text>
<path d="M207.2 422.82H219.7" stroke="#a8222f" stroke-width="1.5"/>
<text x="223.1" y="425.45" font-size="7.3" textLength="24" lengthAdjust="spacingAndGlyphs" fill="#161616" stroke="#161616" stroke-width="0.18">360 nm</text>
<path d="M207.2 437.16H219.7" stroke="#d6a258" stroke-width="1.5"/>
<text x="223.1" y="439.79" font-size="7.3" textLength="24" lengthAdjust="spacingAndGlyphs" fill="#161616" stroke="#161616" stroke-width="0.18">380 nm</text>
<path d="M207.2 451.5H219.7" stroke="#2b3a92" stroke-width="1.5"/>
<text x="223.1" y="454.13" font-size="7.3" textLength="24" lengthAdjust="spacingAndGlyphs" fill="#161616" stroke="#161616" stroke-width="0.18">400 nm</text>
<path d="M207.2 465.84H219.7" stroke="#8a4aa8" stroke-width="1.5"/>
<text x="223.1" y="468.47" font-size="7.3" textLength="24" lengthAdjust="spacingAndGlyphs" fill="#161616" stroke="#161616" stroke-width="0.18">420 nm</text>
<path d="M207.2 480.18H219.7" stroke="#c4403c" stroke-width="1.5"/>
<text x="223.1" y="482.81" font-size="7.3" textLength="24" lengthAdjust="spacingAndGlyphs" fill="#161616" stroke="#161616" stroke-width="0.18">440 nm</text>
<path d="M207.2 494.52H219.7" stroke="#3a9e82" stroke-width="1.5"/>
<text x="223.1" y="497.15" font-size="7.3" textLength="24" lengthAdjust="spacingAndGlyphs" fill="#161616" stroke="#161616" stroke-width="0.18">460 nm</text>
<text x="261.7" y="361" font-size="12" fill="#111" stroke="#111" stroke-width="0.18">F</text>
<text x="292.3" y="370.54" font-size="9" text-anchor="end" fill="#161616" stroke="#161616" stroke-width="0.18">700</text>
<text x="292.3" y="392.64" font-size="9" text-anchor="end" fill="#161616" stroke="#161616" stroke-width="0.18">600</text>
<text x="292.3" y="414.74" font-size="9" text-anchor="end" fill="#161616" stroke="#161616" stroke-width="0.18">500</text>
<text x="292.3" y="436.84" font-size="9" text-anchor="end" fill="#161616" stroke="#161616" stroke-width="0.18">400</text>
<text x="292.3" y="458.94" font-size="9" text-anchor="end" fill="#161616" stroke="#161616" stroke-width="0.18">300</text>
<text x="292.3" y="481.04" font-size="9" text-anchor="end" fill="#161616" stroke="#161616" stroke-width="0.18">200</text>
<text x="292.3" y="503.14" font-size="9" text-anchor="end" fill="#161616" stroke="#161616" stroke-width="0.18">100</text>
<text x="292.3" y="525.24" font-size="9" text-anchor="end" fill="#161616" stroke="#161616" stroke-width="0.18">0</text>
<path d="M295.2 367.3H297M295.2 389.4H297M295.2 411.5H297M295.2 433.6H297M295.2 455.7H297M295.2 477.8H297M295.2 499.9H297M295.2 522H297" stroke="#1a1a1a" stroke-width="1.2"/>
<text x="297" y="533.77" font-size="8.8" text-anchor="middle" fill="#161616" stroke="#161616" stroke-width="0.18">300</text>
<text x="323.94" y="533.77" font-size="8.8" text-anchor="middle" fill="#161616" stroke="#161616" stroke-width="0.18">350</text>
<text x="350.88" y="533.77" font-size="8.8" text-anchor="middle" fill="#161616" stroke="#161616" stroke-width="0.18">400</text>
<text x="377.81" y="533.77" font-size="8.8" text-anchor="middle" fill="#161616" stroke="#161616" stroke-width="0.18">450</text>
<text x="404.75" y="533.77" font-size="8.8" text-anchor="middle" fill="#161616" stroke="#161616" stroke-width="0.18">500</text>
<text x="431.69" y="533.77" font-size="8.8" text-anchor="middle" fill="#161616" stroke="#161616" stroke-width="0.18">550</text>
<text x="458.62" y="533.77" font-size="8.8" text-anchor="middle" fill="#161616" stroke="#161616" stroke-width="0.18">600</text>
<text x="485.56" y="533.77" font-size="8.8" text-anchor="middle" fill="#161616" stroke="#161616" stroke-width="0.18">650</text>
<text x="512.5" y="533.77" font-size="8.8" text-anchor="middle" fill="#161616" stroke="#161616" stroke-width="0.18">700</text>
<path d="M297 522V523.8M323.94 522V523.8M350.88 522V523.8M377.81 522V523.8M404.75 522V523.8M431.69 522V523.8M458.62 522V523.8M485.56 522V523.8M512.5 522V523.8" stroke="#555" stroke-width="0.8"/>
<text x="404" y="545.4" font-size="9" text-anchor="middle" font-weight="bold" textLength="71.7" lengthAdjust="spacingAndGlyphs" fill="#111" stroke="#111" stroke-width="0.18">Wavelength (nm)</text>
<text transform="translate(272.75 447) rotate(-90)" x="0" y="0" font-size="8.8" font-weight="bold" text-anchor="middle" fill="#1a1a1a" stroke="#1a1a1a" stroke-width="0.2" textLength="124.5" lengthAdjust="spacingAndGlyphs">Fluorescence intensity (a.u.)</text>
<path d="M297.5 430.08L298.2 429.01L298.9 428.02L299.6 427.12L300.3 426.29L301 425.56L301.7 424.91L302.4 424.36L303.1 423.89L303.8 423.53L304.5 423.26L305.2 423.08L305.9 423L306.6 423.02L307.3 423.14L308 423.36L308.7 423.67L309.4 424.08L310.1 424.58L310.8 425.18L311.5 425.86L312.2 426.64L312.9 427.49L313.6 428.44L314.3 429.46L315 430.56L315.7 431.73L316.4 432.97L317.1 434.28L317.8 435.65L318.5 437.08L319.2 438.56L319.9 440.09L320.6 441.66L321.3 443.28L322 444.93L322.7 446.61L323.4 448.32L324.1 450.05L324.8 451.8L325.5 453.57L326.2 455.34L326.9 457.12L327.6 458.9L328.3 460.67L329 462.44L329.7 464.2L330.4 465.95L331.1 467.68L331.8 469.38L332.5 471.07L333.2 472.73L333.9 474.36L334.6 475.96L335.3 477.53L336 479.06L336.7 480.56L337.4 482.02L338.1 483.44L338.8 484.82L339.5 486.16L340.2 487.45L340.9 488.71L341.6 489.92L342.3 491.08L343 492.21L343.7 493.28L344.4 494.32L345.1 495.31L345.8 496.26L346.5 497.17L347.2 498.04L347.9 498.86L348.6 499.65L349.3 500.39L350 501.1L350.7 501.77L351.4 502.41L352.1 503.01L352.8 503.58L353.5 504.11L354.2 504.61L354.9 505.09L355.6 505.53L356.3 505.95L357 506.34L357.7 506.7L358.4 507.04L359.1 507.36L359.8 507.65L360.5 507.93L361.2 508.18L361.9 508.42L362.6 508.64L363.3 508.85L364 509.03L364.7 509.21L365.4 509.37L366.1 509.51L366.8 509.65L367.5 509.77L368.2 509.89L368.9 509.99L369.6 510.09L370.3 510.18L371 510.26L371.7 510.33L372.4 510.4L373.1 510.46L373.8 510.51L374.5 510.56L375.2 510.61L375.9 510.65L376.6 510.69L377.3 510.72L378 510.75L378.7 510.78L379.4 510.8L380.1 510.82L380.8 510.84L381.5 510.86L382.2 510.88L382.9 510.89L383.6 510.9L384.3 510.91L385 510.92L385.7 510.93L386.4 510.94L387.1 510.95L387.8 510.95L388.5 510.96L389.2 510.96L389.9 510.97L390.6 510.97L391.3 510.98L392 510.98L392.7 510.98L393.4 510.98L394.1 510.99L394.8 510.99L395.5 510.99L396.2 510.99L396.9 510.99L397.6 510.99L398.3 510.99L399 511L399.7 511L400.4 511L401.1 511L401.8 511L402.5 511L403.2 511L403.9 511L404.6 511L405.3 511L406 511L406.7 511L407.4 511L408.1 511L408.8 511L409.5 511L410.2 511L410.9 511L411.6 511L412.3 511L413 511L413.7 511L414.4 511L415.1 511L415.8 511L416.5 511L417.2 511L417.9 511L418.6 511L419.3 511L420 511L420.7 511L421.4 511L422.1 511L422.8 511L423.5 511L424.2 511L424.9 511L425.6 511L426.3 511L427 511L427.7 511L428.4 511L429.1 511L429.8 511L430.5 511L431.2 511L431.9 511L432.6 511L433.3 511L434 511L434.7 511L435.4 511L436.1 511L436.8 511L437.5 511L438.2 511L438.9 511L439.6 511L440.3 511L441 511L441.7 511L442.4 511L443.1 511L443.8 511L444.5 511L445.2 511L445.9 511L446.6 511L447.3 511L448 511L448.7 511L449.4 511L450.1 511L450.8 511L451.5 511L452.2 511L452.9 511L453.6 511L454.3 511L455 511L455.7 511L456.4 511L457.1 511L457.8 511L458.5 511L459.2 511L459.9 511L460.6 511L461.3 511L462 511L462.7 511L463.4 511L464.1 511L464.8 511L465.5 511L466.2 511L466.9 511L467.6 511L468.3 511L469 511L469.7 511L470.4 511L471.1 511L471.8 511L472.5 511L473.2 511L473.9 511L474.6 511L475.3 511L476 511L476.7 511L477.4 511L478.1 511L478.8 511L479.5 511L480.2 511L480.9 511L481.6 511L482.3 511L483 511L483.7 511L484.4 511L485.1 511L485.8 511L486.5 511L487.2 511L487.9 511L488.6 511L489.3 511L490 511L490.7 511L491.4 511L492.1 511L492.8 511L493.5 511L494.2 511L494.9 511L495.6 511L496.3 511L497 511L497.7 511L498.4 511L499.1 511L499.8 511L500.5 511L501.2 511L501.9 511L502.6 511L503.3 511L504 511L504.7 511L505.4 511L506.1 511L506.8 511L507.5 511L508.2 511L508.9 511L509.6 511L510.3 511L511 511L511.7 511L512 511" fill="none" stroke="#5a7aaa" stroke-width="1.4" stroke-linejoin="round" stroke-linecap="round"/>
<path d="M315.8 451.03L316.5 450.46L317.2 449.92L317.9 449.42L318.6 448.96L319.3 448.53L320 448.15L320.7 447.8L321.4 447.49L322.1 447.23L322.8 447L323.5 446.82L324.2 446.67L324.9 446.57L325.6 446.52L326.3 446.5L327 446.53L327.7 446.6L328.4 446.71L329.1 446.86L329.8 447.06L330.5 447.3L331.2 447.58L331.9 447.89L332.6 448.25L333.3 448.65L334 449.09L334.7 449.56L335.4 450.07L336.1 450.62L336.8 451.2L337.5 451.82L338.2 452.47L338.9 453.15L339.6 453.86L340.3 454.6L341 455.37L341.7 456.16L342.4 456.98L343.1 457.82L343.8 458.69L344.5 459.58L345.2 460.48L345.9 461.41L346.6 462.35L347.3 463.31L348 464.28L348.7 465.26L349.4 466.26L350.1 467.26L350.8 468.27L351.5 469.29L352.2 470.32L352.9 471.34L353.6 472.37L354.3 473.4L355 474.43L355.7 475.46L356.4 476.49L357.1 477.51L357.8 478.53L358.5 479.54L359.2 480.55L359.9 481.54L360.6 482.53L361.3 483.51L362 484.47L362.7 485.43L363.4 486.37L364.1 487.29L364.8 488.21L365.5 489.11L366.2 489.99L366.9 490.86L367.6 491.71L368.3 492.54L369 493.36L369.7 494.16L370.4 494.94L371.1 495.7L371.8 496.45L372.5 497.17L373.2 497.88L373.9 498.57L374.6 499.24L375.3 499.89L376 500.52L376.7 501.13L377.4 501.72L378.1 502.3L378.8 502.85L379.5 503.39L380.2 503.91L380.9 504.41L381.6 504.9L382.3 505.36L383 505.81L383.7 506.24L384.4 506.66L385.1 507.06L385.8 507.44L386.5 507.81L387.2 508.16L387.9 508.5L388.6 508.82L389.3 509.13L390 509.43L390.7 509.71L391.4 509.98L392.1 510.24L392.8 510.48L393.5 510.72L394.2 510.94L394.9 511.15L395.6 511.35L396.3 511.54L397 511.72L397.7 511.89L398.4 512.05L399.1 512.21L399.8 512.35L400.5 512.49L401.2 512.62L401.9 512.74L402.6 512.86L403.3 512.97L404 513.07L404.7 513.16L405.4 513.26L406.1 513.34L406.8 513.42L407.5 513.5L408.2 513.57L408.9 513.63L409.6 513.69L410.3 513.75L411 513.81L411.7 513.86L412.4 513.91L413.1 513.95L413.8 513.99L414.5 514.03L415.2 514.06L415.9 514.1L416.6 514.13L417.3 514.16L418 514.18L418.7 514.21L419.4 514.23L420.1 514.25L420.8 514.27L421.5 514.29L422.2 514.31L422.9 514.33L423.6 514.34L424.3 514.35L425 514.37L425.7 514.38L426.4 514.39L427.1 514.4L427.8 514.41L428.5 514.41L429.2 514.42L429.9 514.43L430.6 514.43L431.3 514.44L432 514.45L432.7 514.45L433.4 514.46L434.1 514.46L434.8 514.46L435.5 514.47L436.2 514.47L436.9 514.47L437.6 514.48L438.3 514.48L439 514.48L439.7 514.48L440.4 514.48L441.1 514.49L441.8 514.49L442.5 514.49L443.2 514.49L443.9 514.49L444.6 514.49L445.3 514.49L446 514.49L446.7 514.49L447.4 514.49L448.1 514.49L448.8 514.5L449.5 514.5L450.2 514.5L450.9 514.5L451.6 514.5L452.3 514.5L453 514.5L453.7 514.5L454.4 514.5L455.1 514.5L455.8 514.5L456.5 514.5L457.2 514.5L457.9 514.5L458.6 514.5L459.3 514.5L460 514.5L460.7 514.5L461.4 514.5L462.1 514.5L462.8 514.5L463.5 514.5L464.2 514.5L464.9 514.5L465.6 514.5L466.3 514.5L467 514.5L467.7 514.5L468.4 514.5L469.1 514.5L469.8 514.5L470.5 514.5L471.2 514.5L471.9 514.5L472.6 514.5L473.3 514.5L474 514.5L474.7 514.5L475.4 514.5L476.1 514.5L476.8 514.5L477.5 514.5L478.2 514.5L478.9 514.5L479.6 514.5L480.3 514.5L481 514.5L481.7 514.5L482.4 514.5L483.1 514.5L483.8 514.5L484.5 514.5L485.2 514.5L485.9 514.5L486.6 514.5L487.3 514.5L488 514.5L488.7 514.5L489.4 514.5L490.1 514.5L490.8 514.5L491.5 514.5L492.2 514.5L492.9 514.5L493.6 514.5L494.3 514.5L495 514.5L495.7 514.5L496.4 514.5L497.1 514.5L497.8 514.5L498.5 514.5L499.2 514.5L499.9 514.5L500.6 514.5L501.3 514.5L502 514.5L502.7 514.5L503.4 514.5L504.1 514.5L504.8 514.5L505.5 514.5L506.2 514.5L506.9 514.5L507.6 514.5L508.3 514.5L509 514.5L509.7 514.5L510.4 514.5L511.1 514.5L511.8 514.5L512 514.5" fill="none" stroke="#2a7a3a" stroke-width="1.4" stroke-linejoin="round" stroke-linecap="round"/>
<path d="M297.5 515L298.2 515L298.9 515L299.6 515L300.3 515L301 515L301.7 515L302.4 515L303.1 515L303.8 515L304.5 515L305.2 515L305.9 515L306.6 515L307.3 515L308 515L308.7 515L309.4 515L310.1 515L310.8 515L311.5 515L312.2 515L312.9 515L313.6 515L314.3 515L315 515L315.7 515L316.4 515L317.1 515L317.8 515L318.5 514.99L319.2 514.99L319.9 514.99L320.6 514.98L321.3 514.96L322 514.94L322.7 514.91L323.4 514.86L324.1 514.78L324.8 514.68L325.5 514.53L326.2 514.32L326.9 514.03L327.6 513.64L328.3 513.13L329 512.46L329.7 511.61L330.4 510.54L331.1 509.23L331.8 507.65L332.5 505.79L333.2 503.62L333.9 501.17L334.6 498.45L335.3 495.5L336 492.38L336.7 489.16L337.4 485.95L338.1 482.84L338.8 479.96L339.5 477.41L340.2 475.29L340.9 473.71L341.6 472.73L342.3 472.4L343 472.73L343.7 473.71L344.4 475.29L345.1 477.41L345.8 479.96L346.5 482.84L347.2 485.95L347.9 489.16L348.6 492.38L349.3 495.5L350 498.45L350.7 501.17L351.4 503.62L352.1 505.79L352.8 507.65L353.5 509.23L354.2 510.54L354.9 511.61L355.6 512.46L356.3 513.13L357 513.64L357.7 514.03L358.4 514.32L359.1 514.53L359.8 514.68L360.5 514.78L361.2 514.86L361.9 514.91L362.6 514.94L363.3 514.96L364 514.98L364.7 514.99L365.4 514.99L366.1 514.99L366.8 515L367.5 515L368.2 515L368.9 515L369.6 515L370.3 515L371 515L371.7 515L372.4 515L373.1 515L373.8 515L374.5 515L375.2 515L375.9 515L376.6 515L377.3 515L378 515L378.7 515L379.4 515L380.1 515L380.8 515L381.5 515L382.2 515L382.9 515L383.6 515L384.3 515L385 515L385.7 515L386.4 515L387.1 515L387.8 515L388.5 515L389.2 515L389.9 515L390.6 515L391.3 515L392 515L392.7 515L393.4 515L394.1 515L394.8 515L395.5 515L396.2 515L396.9 515L397.6 515L398.3 515L399 515L399.7 515L400.4 515L401.1 515L401.8 515L402.5 515L403.2 515L403.9 515L404.6 515L405.3 515L406 515L406.7 515L407.4 515L408.1 515L408.8 515L409.5 515L410.2 515L410.9 515L411.6 515L412.3 515L413 515L413.7 515L414.4 515L415.1 515L415.8 515L416.5 515L417.2 515L417.9 515L418.6 515L419.3 515L420 515L420.7 515L421.4 515L422.1 515L422.8 515L423.5 515L424.2 515L424.9 515L425.6 515L426.3 515L427 515L427.7 515L428.4 515L429.1 515L429.8 515L430.5 515L431.2 515L431.9 515L432.6 515L433.3 515L434 515L434.7 515L435.4 515L436.1 515L436.8 515L437.5 515L438.2 515L438.9 515L439.6 515L440.3 515L441 515L441.7 515L442.4 515L443.1 515L443.8 515L444.5 515L445.2 515L445.9 515L446.6 515L447.3 515L448 515L448.7 515L449.4 515L450.1 515L450.8 515L451.5 515L452.2 515L452.9 515L453.6 515L454.3 515L455 515L455.7 515L456.4 515L457.1 515L457.8 515L458.5 515L459.2 515L459.9 515L460.6 515L461.3 515L462 515L462.7 515L463.4 515L464.1 515L464.8 515L465.5 515L466.2 515L466.9 515L467.6 515L468.3 515L469 515L469.7 515L470.4 515L471.1 515L471.8 515L472.5 515L473.2 515L473.9 515L474.6 515L475.3 515L476 515L476.7 515L477.4 515L478.1 515L478.8 515L479.5 515L480.2 515L480.9 515L481.6 515L482.3 515L483 515L483.7 515L484.4 515L485.1 515L485.8 515L486.5 515L487.2 515L487.9 515L488.6 515L489.3 515L490 515L490.7 515L491.4 515L492.1 515L492.8 515L493.5 515L494.2 515L494.9 515L495.6 515L496.3 515L497 515L497.7 515L498.4 515L499.1 515L499.8 515L500.5 515L501.2 515L501.9 515L502.6 515L503.3 515L504 515L504.7 515L505.4 515L506.1 515L506.8 515L507.5 515L508.2 515L508.9 515L509.6 515L510.3 515L511 515L511.7 515L512 515" fill="none" stroke="#a848b8" stroke-width="1.4" stroke-linejoin="round" stroke-linecap="round"/>
<path d="M297.5 509.78L298.2 509.68L298.9 509.58L299.6 509.46L300.3 509.34L301 509.21L301.7 509.07L302.4 508.92L303.1 508.76L303.8 508.59L304.5 508.41L305.2 508.22L305.9 508.02L306.6 507.81L307.3 507.58L308 507.34L308.7 507.09L309.4 506.83L310.1 506.55L310.8 506.25L311.5 505.94L312.2 505.62L312.9 505.28L313.6 504.92L314.3 504.55L315 504.16L315.7 503.75L316.4 503.32L317.1 502.87L317.8 502.41L318.5 501.93L319.2 501.43L319.9 500.91L320.6 500.37L321.3 499.81L322 499.23L322.7 498.63L323.4 498.02L324.1 497.38L324.8 496.73L325.5 496.05L326.2 495.36L326.9 494.65L327.6 493.92L328.3 493.18L329 492.41L329.7 491.64L330.4 490.84L331.1 490.03L331.8 489.21L332.5 488.38L333.2 487.53L333.9 486.67L334.6 485.8L335.3 484.93L336 484.04L336.7 483.15L337.4 482.25L338.1 481.36L338.8 480.45L339.5 479.55L340.2 478.65L340.9 477.75L341.6 476.86L342.3 475.97L343 475.09L343.7 474.21L344.4 473.35L345.1 472.5L345.8 471.67L346.5 470.85L347.2 470.05L347.9 469.27L348.6 468.51L349.3 467.77L350 467.06L350.7 466.37L351.4 465.71L352.1 465.09L352.8 464.49L353.5 463.92L354.2 463.39L354.9 462.89L355.6 462.43L356.3 462.01L357 461.62L357.7 461.27L358.4 460.97L359.1 460.7L359.8 460.48L360.5 460.3L361.2 460.16L361.9 460.06L362.6 460.01L363.3 460L364 460.04L364.7 460.13L365.4 460.28L366.1 460.47L366.8 460.72L367.5 461.01L368.2 461.35L368.9 461.74L369.6 462.18L370.3 462.66L371 463.18L371.7 463.75L372.4 464.36L373.1 465.01L373.8 465.69L374.5 466.41L375.2 467.16L375.9 467.94L376.6 468.75L377.3 469.59L378 470.45L378.7 471.34L379.4 472.24L380.1 473.16L380.8 474.1L381.5 475.05L382.2 476.01L382.9 476.98L383.6 477.96L384.3 478.94L385 479.93L385.7 480.91L386.4 481.89L387.1 482.87L387.8 483.84L388.5 484.81L389.2 485.77L389.9 486.72L390.6 487.65L391.3 488.57L392 489.48L392.7 490.37L393.4 491.25L394.1 492.1L394.8 492.94L395.5 493.76L396.2 494.56L396.9 495.33L397.6 496.09L398.3 496.82L399 497.53L399.7 498.22L400.4 498.88L401.1 499.53L401.8 500.15L402.5 500.74L403.2 501.31L403.9 501.86L404.6 502.39L405.3 502.9L406 503.38L406.7 503.84L407.4 504.28L408.1 504.7L408.8 505.1L409.5 505.48L410.2 505.84L410.9 506.19L411.6 506.51L412.3 506.82L413 507.11L413.7 507.38L414.4 507.64L415.1 507.88L415.8 508.11L416.5 508.32L417.2 508.52L417.9 508.71L418.6 508.88L419.3 509.05L420 509.2L420.7 509.34L421.4 509.48L422.1 509.6L422.8 509.72L423.5 509.82L424.2 509.92L424.9 510.01L425.6 510.1L426.3 510.18L427 510.25L427.7 510.32L428.4 510.38L429.1 510.43L429.8 510.49L430.5 510.53L431.2 510.58L431.9 510.62L432.6 510.65L433.3 510.69L434 510.72L434.7 510.74L435.4 510.77L436.1 510.79L436.8 510.81L437.5 510.83L438.2 510.85L438.9 510.87L439.6 510.88L440.3 510.89L441 510.9L441.7 510.91L442.4 510.92L443.1 510.93L443.8 510.94L444.5 510.95L445.2 510.95L445.9 510.96L446.6 510.96L447.3 510.97L448 510.97L448.7 510.97L449.4 510.98L450.1 510.98L450.8 510.98L451.5 510.98L452.2 510.99L452.9 510.99L453.6 510.99L454.3 510.99L455 510.99L455.7 510.99L456.4 510.99L457.1 510.99L457.8 511L458.5 511L459.2 511L459.9 511L460.6 511L461.3 511L462 511L462.7 511L463.4 511L464.1 511L464.8 511L465.5 511L466.2 511L466.9 511L467.6 511L468.3 511L469 511L469.7 511L470.4 511L471.1 511L471.8 511L472.5 511L473.2 511L473.9 511L474.6 511L475.3 511L476 511L476.7 511L477.4 511L478.1 511L478.8 511L479.5 511L480.2 511L480.9 511L481.6 511L482.3 511L483 511L483.7 511L484.4 511L485.1 511L485.8 511L486.5 511L487.2 511L487.9 511L488.6 511L489.3 511L490 511L490.7 511L491.4 511L492.1 511L492.8 511L493.5 511L494.2 511L494.9 511L495.6 511L496.3 511L497 511L497.7 511L498.4 511L499.1 511L499.8 511L500.5 511L501.2 511L501.9 511L502.6 511L503.3 511L504 511L504.7 511L505.4 511L506.1 511L506.8 511L507.5 511L508.2 511L508.9 511L509.6 511L510.3 511L511 511L511.7 511L512 511" fill="none" stroke="#7a9ac8" stroke-width="1.4" stroke-linejoin="round" stroke-linecap="round"/>
<path d="M297.5 507.74L298.2 507.59L298.9 507.43L299.6 507.26L300.3 507.08L301 506.89L301.7 506.69L302.4 506.48L303.1 506.26L303.8 506.02L304.5 505.78L305.2 505.52L305.9 505.25L306.6 504.96L307.3 504.66L308 504.35L308.7 504.02L309.4 503.68L310.1 503.32L310.8 502.94L311.5 502.55L312.2 502.14L312.9 501.71L313.6 501.26L314.3 500.8L315 500.31L315.7 499.8L316.4 499.28L317.1 498.73L317.8 498.16L318.5 497.57L319.2 496.96L319.9 496.33L320.6 495.67L321.3 494.99L322 494.29L322.7 493.56L323.4 492.81L324.1 492.03L324.8 491.23L325.5 490.41L326.2 489.56L326.9 488.68L327.6 487.79L328.3 486.86L329 485.91L329.7 484.94L330.4 483.94L331.1 482.92L331.8 481.87L332.5 480.8L333.2 479.71L333.9 478.59L334.6 477.45L335.3 476.29L336 475.1L336.7 473.89L337.4 472.67L338.1 471.42L338.8 470.15L339.5 468.87L340.2 467.57L340.9 466.25L341.6 464.91L342.3 463.57L343 462.2L343.7 460.83L344.4 459.44L345.1 458.05L345.8 456.64L346.5 455.23L347.2 453.82L347.9 452.39L348.6 450.97L349.3 449.55L350 448.12L350.7 446.7L351.4 445.28L352.1 443.87L352.8 442.46L353.5 441.07L354.2 439.68L354.9 438.31L355.6 436.95L356.3 435.6L357 434.28L357.7 432.97L358.4 431.69L359.1 430.43L359.8 429.19L360.5 427.99L361.2 426.81L361.9 425.66L362.6 424.54L363.3 423.46L364 422.41L364.7 421.4L365.4 420.43L366.1 419.5L366.8 418.61L367.5 417.77L368.2 416.96L368.9 416.21L369.6 415.5L370.3 414.84L371 414.23L371.7 413.67L372.4 413.16L373.1 412.71L373.8 412.3L374.5 411.95L375.2 411.66L375.9 411.41L376.6 411.23L377.3 411.1L378 411.02L378.7 411L379.4 411.04L380.1 411.15L380.8 411.33L381.5 411.57L382.2 411.88L382.9 412.25L383.6 412.68L384.3 413.18L385 413.74L385.7 414.36L386.4 415.05L387.1 415.79L387.8 416.58L388.5 417.44L389.2 418.34L389.9 419.3L390.6 420.31L391.3 421.37L392 422.47L392.7 423.62L393.4 424.81L394.1 426.04L394.8 427.31L395.5 428.61L396.2 429.95L396.9 431.32L397.6 432.71L398.3 434.14L399 435.58L399.7 437.05L400.4 438.54L401.1 440.04L401.8 441.56L402.5 443.09L403.2 444.63L403.9 446.18L404.6 447.73L405.3 449.29L406 450.84L406.7 452.4L407.4 453.95L408.1 455.5L408.8 457.04L409.5 458.57L410.2 460.09L410.9 461.6L411.6 463.09L412.3 464.57L413 466.03L413.7 467.47L414.4 468.9L415.1 470.3L415.8 471.68L416.5 473.04L417.2 474.37L417.9 475.68L418.6 476.96L419.3 478.22L420 479.44L420.7 480.64L421.4 481.82L422.1 482.96L422.8 484.08L423.5 485.16L424.2 486.22L424.9 487.24L425.6 488.24L426.3 489.21L427 490.15L427.7 491.05L428.4 491.93L429.1 492.78L429.8 493.6L430.5 494.39L431.2 495.16L431.9 495.89L432.6 496.6L433.3 497.28L434 497.94L434.7 498.57L435.4 499.17L436.1 499.75L436.8 500.3L437.5 500.83L438.2 501.34L438.9 501.82L439.6 502.29L440.3 502.73L441 503.15L441.7 503.55L442.4 503.93L443.1 504.29L443.8 504.64L444.5 504.96L445.2 505.27L445.9 505.57L446.6 505.85L447.3 506.11L448 506.36L448.7 506.6L449.4 506.82L450.1 507.03L450.8 507.23L451.5 507.41L452.2 507.59L452.9 507.75L453.6 507.91L454.3 508.06L455 508.19L455.7 508.32L456.4 508.44L457.1 508.55L457.8 508.66L458.5 508.76L459.2 508.85L459.9 508.94L460.6 509.02L461.3 509.09L462 509.16L462.7 509.23L463.4 509.29L464.1 509.34L464.8 509.39L465.5 509.44L466.2 509.49L466.9 509.53L467.6 509.57L468.3 509.6L469 509.64L469.7 509.67L470.4 509.69L471.1 509.72L471.8 509.74L472.5 509.77L473.2 509.79L473.9 509.8L474.6 509.82L475.3 509.84L476 509.85L476.7 509.87L477.4 509.88L478.1 509.89L478.8 509.9L479.5 509.91L480.2 509.92L480.9 509.92L481.6 509.93L482.3 509.94L483 509.94L483.7 509.95L484.4 509.95L485.1 509.96L485.8 509.96L486.5 509.97L487.2 509.97L487.9 509.97L488.6 509.98L489.3 509.98L490 509.98L490.7 509.98L491.4 509.98L492.1 509.99L492.8 509.99L493.5 509.99L494.2 509.99L494.9 509.99L495.6 509.99L496.3 509.99L497 509.99L497.7 509.99L498.4 509.99L499.1 510L499.8 510L500.5 510L501.2 510L501.9 510L502.6 510L503.3 510L504 510L504.7 510L505.4 510L506.1 510L506.8 510L507.5 510L508.2 510L508.9 510L509.6 510L510.3 510L511 510L511.7 510L512 510" fill="none" stroke="#6a4aa6" stroke-width="1.4" stroke-linejoin="round" stroke-linecap="round"/>
<path d="M297.5 515L298.2 514.91L298.9 514.81L299.6 514.71L300.3 514.6L301 514.48L301.7 514.36L302.4 514.22L303.1 514.09L303.8 513.94L304.5 513.78L305.2 513.62L305.9 513.44L306.6 513.26L307.3 513.06L308 512.86L308.7 512.64L309.4 512.42L310.1 512.18L310.8 511.93L311.5 511.66L312.2 511.38L312.9 511.09L313.6 510.78L314.3 510.46L315 510.12L315.7 509.77L316.4 509.4L317.1 509.01L317.8 508.6L318.5 508.18L319.2 507.73L319.9 507.27L320.6 506.79L321.3 506.28L322 505.75L322.7 505.21L323.4 504.64L324.1 504.04L324.8 503.43L325.5 502.78L326.2 502.12L326.9 501.43L327.6 500.71L328.3 499.97L329 499.2L329.7 498.4L330.4 497.57L331.1 496.72L331.8 495.84L332.5 494.93L333.2 493.99L333.9 493.02L334.6 492.02L335.3 490.99L336 489.94L336.7 488.85L337.4 487.73L338.1 486.58L338.8 485.4L339.5 484.19L340.2 482.95L340.9 481.68L341.6 480.37L342.3 479.04L343 477.68L343.7 476.29L344.4 474.87L345.1 473.43L345.8 471.95L346.5 470.45L347.2 468.92L347.9 467.36L348.6 465.78L349.3 464.18L350 462.55L350.7 460.89L351.4 459.22L352.1 457.53L352.8 455.81L353.5 454.08L354.2 452.33L354.9 450.57L355.6 448.79L356.3 447L357 445.2L357.7 443.39L358.4 441.57L359.1 439.74L359.8 437.91L360.5 436.07L361.2 434.24L361.9 432.4L362.6 430.57L363.3 428.75L364 426.93L364.7 425.11L365.4 423.31L366.1 421.52L366.8 419.75L367.5 417.99L368.2 416.26L368.9 414.54L369.6 412.85L370.3 411.18L371 409.54L371.7 407.93L372.4 406.35L373.1 404.81L373.8 403.3L374.5 401.83L375.2 400.4L375.9 399.01L376.6 397.67L377.3 396.37L378 395.12L378.7 393.91L379.4 392.76L380.1 391.66L380.8 390.62L381.5 389.63L382.2 388.7L382.9 387.83L383.6 387.02L384.3 386.27L385 385.58L385.7 384.95L386.4 384.39L387.1 383.9L387.8 383.47L388.5 383.1L389.2 382.81L389.9 382.58L390.6 382.42L391.3 382.33L392 382.3L392.7 382.36L393.4 382.5L394.1 382.73L394.8 383.04L395.5 383.44L396.2 383.93L396.9 384.5L397.6 385.15L398.3 385.88L399 386.69L399.7 387.58L400.4 388.55L401.1 389.59L401.8 390.71L402.5 391.89L403.2 393.15L403.9 394.47L404.6 395.85L405.3 397.3L406 398.81L406.7 400.37L407.4 401.98L408.1 403.65L408.8 405.36L409.5 407.12L410.2 408.91L410.9 410.75L411.6 412.63L412.3 414.53L413 416.47L413.7 418.43L414.4 420.42L415.1 422.42L415.8 424.45L416.5 426.49L417.2 428.54L417.9 430.6L418.6 432.66L419.3 434.73L420 436.8L420.7 438.86L421.4 440.93L422.1 442.98L422.8 445.02L423.5 447.06L424.2 449.07L424.9 451.08L425.6 453.06L426.3 455.02L427 456.96L427.7 458.88L428.4 460.77L429.1 462.63L429.8 464.46L430.5 466.26L431.2 468.04L431.9 469.78L432.6 471.48L433.3 473.15L434 474.79L434.7 476.39L435.4 477.95L436.1 479.47L436.8 480.96L437.5 482.41L438.2 483.82L438.9 485.2L439.6 486.53L440.3 487.82L441 489.08L441.7 490.3L442.4 491.48L443.1 492.62L443.8 493.72L444.5 494.79L445.2 495.82L445.9 496.81L446.6 497.77L447.3 498.69L448 499.57L448.7 500.42L449.4 501.24L450.1 502.03L450.8 502.78L451.5 503.5L452.2 504.19L452.9 504.85L453.6 505.49L454.3 506.09L455 506.67L455.7 507.21L456.4 507.74L457.1 508.24L457.8 508.71L458.5 509.16L459.2 509.59L459.9 510L460.6 510.39L461.3 510.75L462 511.1L462.7 511.43L463.4 511.74L464.1 512.03L464.8 512.31L465.5 512.57L466.2 512.82L466.9 513.05L467.6 513.27L468.3 513.47L469 513.67L469.7 513.85L470.4 514.02L471.1 514.18L471.8 514.33L472.5 514.47L473.2 514.6L473.9 514.73L474.6 514.84L475.3 514.95L476 515.05L476.7 515.15L477.4 515.23L478.1 515.31L478.8 515.39L479.5 515.46L480.2 515.53L480.9 515.59L481.6 515.64L482.3 515.7L483 515.75L483.7 515.79L484.4 515.83L485.1 515.87L485.8 515.91L486.5 515.94L487.2 515.97L487.9 516L488.6 516.02L489.3 516.05L490 516.07L490.7 516.09L491.4 516.11L492.1 516.12L492.8 516.14L493.5 516.15L494.2 516.17L494.9 516.18L495.6 516.19L496.3 516.2L497 516.21L497.7 516.22L498.4 516.23L499.1 516.23L499.8 516.24L500.5 516.24L501.2 516.25L501.9 516.26L502.6 516.26L503.3 516.26L504 516.27L504.7 516.27L505.4 516.27L506.1 516.28L506.8 516.28L507.5 516.28L508.2 516.28L508.9 516.28L509.6 516.29L510.3 516.29L511 516.29L511.7 516.29L512 516.29" fill="none" stroke="#9c1f30" stroke-width="1.4" stroke-linejoin="round" stroke-linecap="round"/>
<path d="M297.5 512.76L298.2 512.76L298.9 512.75L299.6 512.75L300.3 512.74L301 512.74L301.7 512.73L302.4 512.72L303.1 512.72L303.8 512.71L304.5 512.7L305.2 512.69L305.9 512.67L306.6 512.66L307.3 512.65L308 512.63L308.7 512.62L309.4 512.6L310.1 512.58L310.8 512.56L311.5 512.53L312.2 512.51L312.9 512.48L313.6 512.45L314.3 512.42L315 512.38L315.7 512.34L316.4 512.3L317.1 512.26L317.8 512.21L318.5 512.16L319.2 512.1L319.9 512.04L320.6 511.97L321.3 511.9L322 511.83L322.7 511.75L323.4 511.66L324.1 511.57L324.8 511.47L325.5 511.36L326.2 511.24L326.9 511.12L327.6 510.99L328.3 510.85L329 510.7L329.7 510.54L330.4 510.37L331.1 510.19L331.8 510L332.5 509.79L333.2 509.57L333.9 509.34L334.6 509.1L335.3 508.84L336 508.57L336.7 508.28L337.4 507.98L338.1 507.66L338.8 507.32L339.5 506.96L340.2 506.59L340.9 506.19L341.6 505.78L342.3 505.34L343 504.89L343.7 504.41L344.4 503.91L345.1 503.38L345.8 502.84L346.5 502.27L347.2 501.67L347.9 501.05L348.6 500.4L349.3 499.73L350 499.03L350.7 498.3L351.4 497.55L352.1 496.77L352.8 495.96L353.5 495.12L354.2 494.26L354.9 493.36L355.6 492.44L356.3 491.49L357 490.51L357.7 489.51L358.4 488.47L359.1 487.41L359.8 486.32L360.5 485.21L361.2 484.06L361.9 482.9L362.6 481.7L363.3 480.49L364 479.25L364.7 477.99L365.4 476.7L366.1 475.4L366.8 474.08L367.5 472.74L368.2 471.38L368.9 470.01L369.6 468.63L370.3 467.23L371 465.83L371.7 464.41L372.4 462.99L373.1 461.56L373.8 460.14L374.5 458.71L375.2 457.28L375.9 455.86L376.6 454.44L377.3 453.03L378 451.63L378.7 450.24L379.4 448.87L380.1 447.52L380.8 446.18L381.5 444.87L382.2 443.58L382.9 442.32L383.6 441.08L384.3 439.88L385 438.71L385.7 437.58L386.4 436.49L387.1 435.43L387.8 434.42L388.5 433.45L389.2 432.53L389.9 431.66L390.6 430.84L391.3 430.06L392 429.35L392.7 428.68L393.4 428.07L394.1 427.52L394.8 427.03L395.5 426.6L396.2 426.23L396.9 425.92L397.6 425.67L398.3 425.49L399 425.36L399.7 425.31L400.4 425.31L401.1 425.39L401.8 425.55L402.5 425.77L403.2 426.07L403.9 426.45L404.6 426.89L405.3 427.41L406 427.99L406.7 428.64L407.4 429.36L408.1 430.14L408.8 430.99L409.5 431.89L410.2 432.86L410.9 433.87L411.6 434.95L412.3 436.07L413 437.24L413.7 438.46L414.4 439.71L415.1 441.01L415.8 442.35L416.5 443.72L417.2 445.12L417.9 446.55L418.6 448L419.3 449.47L420 450.97L420.7 452.48L421.4 454L422.1 455.54L422.8 457.08L423.5 458.62L424.2 460.17L424.9 461.72L425.6 463.26L426.3 464.8L427 466.33L427.7 467.85L428.4 469.35L429.1 470.85L429.8 472.32L430.5 473.78L431.2 475.21L431.9 476.63L432.6 478.02L433.3 479.38L434 480.72L434.7 482.03L435.4 483.32L436.1 484.57L436.8 485.79L437.5 486.99L438.2 488.15L438.9 489.27L439.6 490.37L440.3 491.43L441 492.46L441.7 493.46L442.4 494.42L443.1 495.35L443.8 496.25L444.5 497.12L445.2 497.95L445.9 498.75L446.6 499.52L447.3 500.25L448 500.96L448.7 501.63L449.4 502.28L450.1 502.9L450.8 503.49L451.5 504.05L452.2 504.58L452.9 505.09L453.6 505.57L454.3 506.03L455 506.47L455.7 506.88L456.4 507.27L457.1 507.64L457.8 507.99L458.5 508.31L459.2 508.62L459.9 508.92L460.6 509.19L461.3 509.45L462 509.69L462.7 509.92L463.4 510.13L464.1 510.33L464.8 510.51L465.5 510.69L466.2 510.85L466.9 511L467.6 511.14L468.3 511.27L469 511.4L469.7 511.51L470.4 511.62L471.1 511.71L471.8 511.8L472.5 511.89L473.2 511.96L473.9 512.04L474.6 512.1L475.3 512.16L476 512.22L476.7 512.27L477.4 512.32L478.1 512.36L478.8 512.4L479.5 512.44L480.2 512.47L480.9 512.5L481.6 512.53L482.3 512.56L483 512.58L483.7 512.6L484.4 512.62L485.1 512.64L485.8 512.65L486.5 512.67L487.2 512.68L487.9 512.69L488.6 512.7L489.3 512.71L490 512.72L490.7 512.73L491.4 512.74L492.1 512.74L492.8 512.75L493.5 512.76L494.2 512.76L494.9 512.76L495.6 512.77L496.3 512.77L497 512.78L497.7 512.78L498.4 512.78L499.1 512.78L499.8 512.78L500.5 512.79L501.2 512.79L501.9 512.79L502.6 512.79L503.3 512.79L504 512.79L504.7 512.79L505.4 512.79L506.1 512.8L506.8 512.8L507.5 512.8L508.2 512.8L508.9 512.8L509.6 512.8L510.3 512.8L511 512.8L511.7 512.8L512 512.8" fill="none" stroke="#e09a3a" stroke-width="1.4" stroke-linejoin="round" stroke-linecap="round"/>
<path d="M297.5 516L298.2 516L298.9 516L299.6 516L300.3 516L301 516L301.7 516L302.4 516L303.1 516L303.8 516L304.5 516L305.2 516L305.9 516L306.6 516L307.3 516L308 516L308.7 516L309.4 516L310.1 516L310.8 516L311.5 516L312.2 516L312.9 516L313.6 516L314.3 516L315 516L315.7 516L316.4 516L317.1 516L317.8 516L318.5 516L319.2 516L319.9 516L320.6 516L321.3 516L322 516L322.7 516L323.4 516L324.1 516L324.8 516L325.5 516L326.2 516L326.9 516L327.6 516L328.3 516L329 516L329.7 516L330.4 516L331.1 516L331.8 516L332.5 516L333.2 516L333.9 516L334.6 516L335.3 516L336 516L336.7 516L337.4 516L338.1 516L338.8 516L339.5 516L340.2 516L340.9 516L341.6 516L342.3 516L343 516L343.7 516L344.4 516L345.1 516L345.8 516L346.5 516L347.2 515.99L347.9 515.99L348.6 515.99L349.3 515.99L350 515.99L350.7 515.99L351.4 515.98L352.1 515.98L352.8 515.98L353.5 515.97L354.2 515.97L354.9 515.96L355.6 515.95L356.3 515.94L357 515.93L357.7 515.92L358.4 515.91L359.1 515.89L359.8 515.87L360.5 515.85L361.2 515.82L361.9 515.79L362.6 515.76L363.3 515.72L364 515.68L364.7 515.63L365.4 515.57L366.1 515.5L366.8 515.43L367.5 515.35L368.2 515.25L368.9 515.15L369.6 515.03L370.3 514.89L371 514.74L371.7 514.58L372.4 514.39L373.1 514.19L373.8 513.96L374.5 513.71L375.2 513.44L375.9 513.14L376.6 512.81L377.3 512.45L378 512.06L378.7 511.63L379.4 511.17L380.1 510.68L380.8 510.14L381.5 509.56L382.2 508.95L382.9 508.29L383.6 507.59L384.3 506.84L385 506.05L385.7 505.22L386.4 504.34L387.1 503.41L387.8 502.45L388.5 501.44L389.2 500.39L389.9 499.3L390.6 498.17L391.3 497L392 495.81L392.7 494.59L393.4 493.34L394.1 492.07L394.8 490.79L395.5 489.49L396.2 488.19L396.9 486.89L397.6 485.6L398.3 484.31L399 483.04L399.7 481.8L400.4 480.59L401.1 479.41L401.8 478.28L402.5 477.2L403.2 476.17L403.9 475.2L404.6 474.31L405.3 473.48L406 472.73L406.7 472.07L407.4 471.49L408.1 471L408.8 470.61L409.5 470.31L410.2 470.11L410.9 470.01L411.6 470.01L412.3 470.11L413 470.31L413.7 470.61L414.4 471L415.1 471.49L415.8 472.07L416.5 472.73L417.2 473.48L417.9 474.31L418.6 475.2L419.3 476.17L420 477.2L420.7 478.28L421.4 479.41L422.1 480.59L422.8 481.8L423.5 483.04L424.2 484.31L424.9 485.6L425.6 486.89L426.3 488.19L427 489.49L427.7 490.79L428.4 492.07L429.1 493.34L429.8 494.59L430.5 495.81L431.2 497L431.9 498.17L432.6 499.3L433.3 500.39L434 501.44L434.7 502.45L435.4 503.41L436.1 504.34L436.8 505.22L437.5 506.05L438.2 506.84L438.9 507.59L439.6 508.29L440.3 508.95L441 509.56L441.7 510.14L442.4 510.68L443.1 511.17L443.8 511.63L444.5 512.06L445.2 512.45L445.9 512.81L446.6 513.14L447.3 513.44L448 513.71L448.7 513.96L449.4 514.19L450.1 514.39L450.8 514.58L451.5 514.74L452.2 514.89L452.9 515.03L453.6 515.15L454.3 515.25L455 515.35L455.7 515.43L456.4 515.5L457.1 515.57L457.8 515.63L458.5 515.68L459.2 515.72L459.9 515.76L460.6 515.79L461.3 515.82L462 515.85L462.7 515.87L463.4 515.89L464.1 515.91L464.8 515.92L465.5 515.93L466.2 515.94L466.9 515.95L467.6 515.96L468.3 515.97L469 515.97L469.7 515.98L470.4 515.98L471.1 515.98L471.8 515.99L472.5 515.99L473.2 515.99L473.9 515.99L474.6 515.99L475.3 515.99L476 516L476.7 516L477.4 516L478.1 516L478.8 516L479.5 516L480.2 516L480.9 516L481.6 516L482.3 516L483 516L483.7 516L484.4 516L485.1 516L485.8 516L486.5 516L487.2 516L487.9 516L488.6 516L489.3 516L490 516L490.7 516L491.4 516L492.1 516L492.8 516L493.5 516L494.2 516L494.9 516L495.6 516L496.3 516L497 516L497.7 516L498.4 516L499.1 516L499.8 516L500.5 516L501.2 516L501.9 516L502.6 516L503.3 516L504 516L504.7 516L505.4 516L506.1 516L506.8 516L507.5 516L508.2 516L508.9 516L509.6 516L510.3 516L511 516L511.7 516L512 516" fill="none" stroke="#c42a48" stroke-width="1.4" stroke-linejoin="round" stroke-linecap="round"/>
<path d="M297.5 517.2L298.2 517.2L298.9 517.2L299.6 517.2L300.3 517.2L301 517.2L301.7 517.2L302.4 517.2L303.1 517.2L303.8 517.2L304.5 517.2L305.2 517.2L305.9 517.2L306.6 517.2L307.3 517.2L308 517.2L308.7 517.2L309.4 517.2L310.1 517.2L310.8 517.2L311.5 517.2L312.2 517.2L312.9 517.2L313.6 517.2L314.3 517.2L315 517.2L315.7 517.2L316.4 517.2L317.1 517.2L317.8 517.2L318.5 517.2L319.2 517.2L319.9 517.2L320.6 517.2L321.3 517.2L322 517.2L322.7 517.2L323.4 517.2L324.1 517.2L324.8 517.2L325.5 517.2L326.2 517.2L326.9 517.2L327.6 517.2L328.3 517.2L329 517.2L329.7 517.2L330.4 517.2L331.1 517.2L331.8 517.2L332.5 517.2L333.2 517.2L333.9 517.2L334.6 517.2L335.3 517.2L336 517.2L336.7 517.2L337.4 517.2L338.1 517.2L338.8 517.2L339.5 517.2L340.2 517.2L340.9 517.2L341.6 517.2L342.3 517.2L343 517.2L343.7 517.2L344.4 517.2L345.1 517.2L345.8 517.2L346.5 517.2L347.2 517.2L347.9 517.2L348.6 517.2L349.3 517.2L350 517.2L350.7 517.2L351.4 517.2L352.1 517.2L352.8 517.2L353.5 517.2L354.2 517.2L354.9 517.2L355.6 517.2L356.3 517.2L357 517.2L357.7 517.2L358.4 517.2L359.1 517.2L359.8 517.2L360.5 517.2L361.2 517.2L361.9 517.2L362.6 517.2L363.3 517.2L364 517.2L364.7 517.2L365.4 517.2L366.1 517.2L366.8 517.2L367.5 517.2L368.2 517.2L368.9 517.2L369.6 517.2L370.3 517.2L371 517.2L371.7 517.2L372.4 517.2L373.1 517.2L373.8 517.2L374.5 517.2L375.2 517.2L375.9 517.2L376.6 517.2L377.3 517.2L378 517.2L378.7 517.2L379.4 517.2L380.1 517.2L380.8 517.2L381.5 517.2L382.2 517.2L382.9 517.2L383.6 517.2L384.3 517.2L385 517.2L385.7 517.2L386.4 517.2L387.1 517.2L387.8 517.2L388.5 517.2L389.2 517.2L389.9 517.2L390.6 517.2L391.3 517.2L392 517.2L392.7 517.2L393.4 517.2L394.1 517.2L394.8 517.2L395.5 517.2L396.2 517.2L396.9 517.2L397.6 517.2L398.3 517.2L399 517.2L399.7 517.19L400.4 517.19L401.1 517.19L401.8 517.18L402.5 517.17L403.2 517.16L403.9 517.14L404.6 517.11L405.3 517.08L406 517.03L406.7 516.97L407.4 516.89L408.1 516.79L408.8 516.65L409.5 516.48L410.2 516.27L410.9 516.01L411.6 515.69L412.3 515.3L413 514.83L413.7 514.28L414.4 513.64L415.1 512.9L415.8 512.05L416.5 511.1L417.2 510.05L417.9 508.9L418.6 507.66L419.3 506.34L420 504.97L420.7 503.56L421.4 502.13L422.1 500.73L422.8 499.37L423.5 498.09L424.2 496.92L424.9 495.9L425.6 495.04L426.3 494.38L427 493.94L427.7 493.72L428.4 493.74L429.1 493.99L429.8 494.46L430.5 495.15L431.2 496.03L431.9 497.08L432.6 498.26L433.3 499.56L434 500.92L434.7 502.34L435.4 503.76L436.1 505.17L436.8 506.54L437.5 507.84L438.2 509.07L438.9 510.21L439.6 511.25L440.3 512.18L441 513.01L441.7 513.74L442.4 514.37L443.1 514.91L443.8 515.36L444.5 515.74L445.2 516.05L445.9 516.31L446.6 516.51L447.3 516.67L448 516.8L448.7 516.9L449.4 516.98L450.1 517.04L450.8 517.08L451.5 517.12L452.2 517.14L452.9 517.16L453.6 517.17L454.3 517.18L455 517.19L455.7 517.19L456.4 517.19L457.1 517.2L457.8 517.2L458.5 517.2L459.2 517.2L459.9 517.2L460.6 517.2L461.3 517.2L462 517.2L462.7 517.2L463.4 517.2L464.1 517.2L464.8 517.2L465.5 517.2L466.2 517.2L466.9 517.2L467.6 517.2L468.3 517.2L469 517.2L469.7 517.2L470.4 517.2L471.1 517.2L471.8 517.2L472.5 517.2L473.2 517.2L473.9 517.2L474.6 517.2L475.3 517.2L476 517.2L476.7 517.2L477.4 517.2L478.1 517.2L478.8 517.2L479.5 517.2L480.2 517.2L480.9 517.2L481.6 517.2L482.3 517.2L483 517.2L483.7 517.2L484.4 517.2L485.1 517.2L485.8 517.2L486.5 517.2L487.2 517.2L487.9 517.2L488.6 517.2L489.3 517.2L490 517.2L490.7 517.2L491.4 517.2L492.1 517.2L492.8 517.2L493.5 517.2L494.2 517.2L494.9 517.2L495.6 517.2L496.3 517.2L497 517.2L497.7 517.2L498.4 517.2L499.1 517.2L499.8 517.2L500.5 517.2L501.2 517.2L501.9 517.2L502.6 517.2L503.3 517.2L504 517.2L504.7 517.2L505.4 517.2L506.1 517.2L506.8 517.2L507.5 517.2L508.2 517.2L508.9 517.2L509.6 517.2L510.3 517.2L511 517.2L511.7 517.2L512 517.2" fill="none" stroke="#6ac064" stroke-width="1.4" stroke-linejoin="round" stroke-linecap="round"/>
<path d="M391.5 375.4V521" stroke="#6a8cb0" stroke-width="1.1" stroke-dasharray="3 2"/>
<path d="M297 367.3V522H512.5V367.3Z" fill="none" stroke="#1a1a1a" stroke-width="1.4" stroke-linejoin="round"/>
<text x="393.2" y="377.7" font-size="8.8" fill="#161616" stroke="#161616" stroke-width="0.18">λ<tspan font-size="6.6" dy="2.5">max</tspan><tspan dy="-2.5"> = 473 nm</tspan></text>
<path d="M466.25 386.25H478.75" stroke="#5a7aaa" stroke-width="1.5"/>
<text x="481.25" y="388.88" font-size="7.3" textLength="23.8" lengthAdjust="spacingAndGlyphs" fill="#161616" stroke="#161616" stroke-width="0.18">300 nm</text>
<path d="M466.25 399.47H478.75" stroke="#2a7a3a" stroke-width="1.5"/>
<text x="481.25" y="402.1" font-size="7.3" textLength="23.8" lengthAdjust="spacingAndGlyphs" fill="#161616" stroke="#161616" stroke-width="0.18">320 nm</text>
<path d="M466.25 412.69H478.75" stroke="#a848b8" stroke-width="1.5"/>
<text x="481.25" y="415.32" font-size="7.3" textLength="23.8" lengthAdjust="spacingAndGlyphs" fill="#161616" stroke="#161616" stroke-width="0.18">340 nm</text>
<path d="M466.25 425.91H478.75" stroke="#7a9ac8" stroke-width="1.5"/>
<text x="481.25" y="428.54" font-size="7.3" textLength="23.8" lengthAdjust="spacingAndGlyphs" fill="#161616" stroke="#161616" stroke-width="0.18">360 nm</text>
<path d="M466.25 439.13H478.75" stroke="#6a4aa6" stroke-width="1.5"/>
<text x="481.25" y="441.76" font-size="7.3" textLength="23.8" lengthAdjust="spacingAndGlyphs" fill="#161616" stroke="#161616" stroke-width="0.18">380 nm</text>
<path d="M466.25 452.35H478.75" stroke="#9c1f30" stroke-width="1.5"/>
<text x="481.25" y="454.98" font-size="7.3" textLength="23.8" lengthAdjust="spacingAndGlyphs" fill="#161616" stroke="#161616" stroke-width="0.18">400 nm</text>
<path d="M466.25 465.57H478.75" stroke="#e09a3a" stroke-width="1.5"/>
<text x="481.25" y="468.2" font-size="7.3" textLength="23.8" lengthAdjust="spacingAndGlyphs" fill="#161616" stroke="#161616" stroke-width="0.18">420 nm</text>
<path d="M466.25 478.79H478.75" stroke="#c42a48" stroke-width="1.5"/>
<text x="481.25" y="481.42" font-size="7.3" textLength="23.8" lengthAdjust="spacingAndGlyphs" fill="#161616" stroke="#161616" stroke-width="0.18">440 nm</text>
<path d="M466.25 492.01H478.75" stroke="#6ac064" stroke-width="1.5"/>
<text x="481.25" y="494.64" font-size="7.3" textLength="23.8" lengthAdjust="spacingAndGlyphs" fill="#161616" stroke="#161616" stroke-width="0.18">460 nm</text>
<text x="132.5" y="563.6" font-size="12" fill="#111" stroke="#111" stroke-width="0.18">G</text>
<text x="165.8" y="564.24" font-size="9" text-anchor="end" fill="#161616" stroke="#161616" stroke-width="0.18">800</text>
<text x="165.8" y="585.55" font-size="9" text-anchor="end" fill="#161616" stroke="#161616" stroke-width="0.18">700</text>
<text x="165.8" y="606.87" font-size="9" text-anchor="end" fill="#161616" stroke="#161616" stroke-width="0.18">600</text>
<text x="165.8" y="628.18" font-size="9" text-anchor="end" fill="#161616" stroke="#161616" stroke-width="0.18">500</text>
<text x="165.8" y="649.49" font-size="9" text-anchor="end" fill="#161616" stroke="#161616" stroke-width="0.18">400</text>
<text x="165.8" y="670.8" font-size="9" text-anchor="end" fill="#161616" stroke="#161616" stroke-width="0.18">300</text>
<text x="165.8" y="692.12" font-size="9" text-anchor="end" fill="#161616" stroke="#161616" stroke-width="0.18">200</text>
<text x="165.8" y="713.43" font-size="9" text-anchor="end" fill="#161616" stroke="#161616" stroke-width="0.18">100</text>
<text x="165.8" y="734.74" font-size="9" text-anchor="end" fill="#161616" stroke="#161616" stroke-width="0.18">0</text>
<text x="171.6" y="744.47" font-size="8.8" text-anchor="middle" fill="#161616" stroke="#161616" stroke-width="0.18">300</text>
<text x="198.98" y="744.47" font-size="8.8" text-anchor="middle" fill="#161616" stroke="#161616" stroke-width="0.18">350</text>
<text x="226.36" y="744.47" font-size="8.8" text-anchor="middle" fill="#161616" stroke="#161616" stroke-width="0.18">400</text>
<text x="253.74" y="744.47" font-size="8.8" text-anchor="middle" fill="#161616" stroke="#161616" stroke-width="0.18">450</text>
<text x="281.12" y="744.47" font-size="8.8" text-anchor="middle" fill="#161616" stroke="#161616" stroke-width="0.18">500</text>
<text x="308.5" y="744.47" font-size="8.8" text-anchor="middle" fill="#161616" stroke="#161616" stroke-width="0.18">550</text>
<text x="335.88" y="744.47" font-size="8.8" text-anchor="middle" fill="#161616" stroke="#161616" stroke-width="0.18">600</text>
<text x="363.26" y="744.47" font-size="8.8" text-anchor="middle" fill="#161616" stroke="#161616" stroke-width="0.18">650</text>
<text x="390.64" y="744.47" font-size="8.8" text-anchor="middle" fill="#161616" stroke="#161616" stroke-width="0.18">700</text>
<text x="280" y="756.7" font-size="9" text-anchor="middle" font-weight="bold" textLength="71.2" lengthAdjust="spacingAndGlyphs" fill="#111" stroke="#111" stroke-width="0.18">Wavelength (nm)</text>
<text transform="translate(143.3 646.1) rotate(-90)" x="0" y="0" font-size="8.8" font-weight="bold" text-anchor="middle" fill="#1a1a1a" stroke="#1a1a1a" stroke-width="0.2" textLength="120.6" lengthAdjust="spacingAndGlyphs">Fluorescence intensity (a.u.)</text>
<path d="M172.2 711.56L173 709.08L173.8 706.26L174.6 703.09L175.4 699.58L176.2 695.74L177 691.61L177.8 687.23L178.6 682.66L179.4 677.96L180.2 673.24L181 668.57L181.8 664.07L182.6 659.84L183.4 655.99L184.2 652.62L185 649.82L185.8 647.67L186.6 646.23L187.4 645.55L188.2 645.61L189 646.23L189.8 647.38L190.6 649.05L191.4 651.2L192.2 653.78L193 656.74L193.8 660.03L194.6 663.58L195.4 667.34L196.2 671.23L197 675.19L197.8 679.17L198.6 683.11L199.4 686.96L200.2 690.68L201 694.23L201.8 697.57L202.6 700.7L203.4 703.59L204.2 706.24L205 708.64L205.8 710.8L206.6 712.72L207.4 714.41L208.2 715.9L209 717.18L209.8 718.29L210.6 719.23L211.4 720.03L212.2 720.7L213 721.25L213.8 721.71L214.6 722.08L215.4 722.39L216.2 722.63L217 722.83L217.8 722.98L218.6 723.11L219.4 723.2L220.2 723.28L221 723.33L221.8 723.38L222.6 723.41L223.4 723.43L224.2 723.45L225 723.46L225.8 723.47L226.6 723.48L227.4 723.49L228.2 723.49L229 723.49L229.8 723.5L230.6 723.5L231.4 723.5L232.2 723.5L233 723.5L233.8 723.5L234.6 723.5L235.4 723.5L236.2 723.5L237 723.5L237.8 723.5L238.6 723.5L239.4 723.5L240.2 723.5L241 723.5L241.8 723.5L242.6 723.5L243.4 723.5L244.2 723.5L245 723.5L245.8 723.5L246.6 723.5L247.4 723.5L248.2 723.5L249 723.5L249.8 723.5L250.6 723.5L251.4 723.5L252.2 723.5L253 723.5L253.8 723.5L254.6 723.5L255.4 723.5L256.2 723.5L257 723.5L257.8 723.5L258.6 723.5L259.4 723.5L260.2 723.5L261 723.5L261.8 723.5L262.6 723.5L263.4 723.5L264.2 723.5L265 723.5L265.8 723.5L266.6 723.5L267.4 723.5L268.2 723.5L269 723.5L269.8 723.5L270.6 723.5L271.4 723.5L272.2 723.5L273 723.5L273.8 723.5L274.6 723.5L275.4 723.5L276.2 723.5L277 723.5L277.8 723.5L278.6 723.5L279.4 723.5L280.2 723.5L281 723.5L281.8 723.5L282.6 723.5L283.4 723.5L284.2 723.5L285 723.5L285.8 723.5L286.6 723.5L287.4 723.5L288.2 723.5L289 723.5L289.8 723.5L290.6 723.5L291.4 723.5L292.2 723.5L293 723.5L293.8 723.5L294.6 723.5L295.4 723.5L296.2 723.5L297 723.5L297.8 723.5L298.6 723.5L299.4 723.5L300.2 723.5L301 723.5L301.8 723.5L302.6 723.5L303.4 723.5L304.2 723.5L305 723.5L305.8 723.5L306.6 723.5L307.4 723.5L308.2 723.5L309 723.5L309.8 723.5L310.6 723.5L311.4 723.5L312.2 723.5L313 723.5L313.8 723.5L314.6 723.5L315.4 723.5L316.2 723.5L317 723.5L317.8 723.5L318.6 723.5L319.4 723.5L320.2 723.5L321 723.5L321.8 723.5L322.6 723.5L323.4 723.5L324.2 723.5L325 723.5L325.8 723.5L326.6 723.5L327.4 723.5L328.2 723.5L329 723.5L329.8 723.5L330.6 723.5L331.4 723.5L332.2 723.5L333 723.5L333.8 723.5L334.6 723.5L335.4 723.5L336.2 723.5L337 723.5L337.8 723.5L338.6 723.5L339.4 723.5L340.2 723.5L341 723.5L341.8 723.5L342.6 723.5L343.4 723.5L344.2 723.5L345 723.5L345.8 723.5L346.6 723.5L347.4 723.5L348.2 723.5L349 723.5L349.8 723.5L350.6 723.5L351.4 723.5L352.2 723.5L353 723.5L353.8 723.5L354.6 723.5L355.4 723.5L356.2 723.5L357 723.5L357.8 723.5L358.6 723.5L359.4 723.5L360.2 723.5L361 723.5L361.8 723.5L362.6 723.5L363.4 723.5L364.2 723.5L365 723.5L365.8 723.5L366.6 723.5L367.4 723.5L368.2 723.5L369 723.5L369.8 723.5L370.6 723.5L371.4 723.5L372.2 723.5L373 723.5L373.8 723.5L374.6 723.5L375.4 723.5L376.2 723.5L377 723.5L377.8 723.5L378.6 723.5L379.4 723.5L380.2 723.5L381 723.5L381.8 723.5L382.6 723.5L383.4 723.5L384.2 723.5L385 723.5L385.8 723.5L386.6 723.5L387.4 723.5L388.2 723.5L389 723.5L389.8 723.5L390.6 723.5L391.4 723.5L392.2 723.5L392.9 723.5" fill="none" stroke="#4a78a8" stroke-width="1.6" stroke-linejoin="round" stroke-linecap="round"/>
<path d="M191 672.79L191.8 672.33L192.6 671.9L193.4 671.52L194.2 671.18L195 670.88L195.8 670.62L196.6 670.41L197.4 670.24L198.2 670.11L199 670.04L199.8 670L200.6 670.01L201.4 670.06L202.2 670.15L203 670.28L203.8 670.44L204.6 670.65L205.4 670.89L206.2 671.17L207 671.49L207.8 671.84L208.6 672.23L209.4 672.66L210.2 673.12L211 673.61L211.8 674.13L212.6 674.69L213.4 675.27L214.2 675.88L215 676.52L215.8 677.19L216.6 677.88L217.4 678.59L218.2 679.33L219 680.09L219.8 680.86L220.6 681.66L221.4 682.47L222.2 683.29L223 684.13L223.8 684.98L224.6 685.85L225.4 686.72L226.2 687.6L227 688.48L227.8 689.37L228.6 690.27L229.4 691.16L230.2 692.06L231 692.96L231.8 693.85L232.6 694.75L233.4 695.64L234.2 696.52L235 697.4L235.8 698.27L236.6 699.13L237.4 699.98L238.2 700.83L239 701.66L239.8 702.48L240.6 703.29L241.4 704.08L242.2 704.86L243 705.63L243.8 706.38L244.6 707.12L245.4 707.84L246.2 708.54L247 709.23L247.8 709.9L248.6 710.56L249.4 711.19L250.2 711.81L251 712.42L251.8 713L252.6 713.57L253.4 714.12L254.2 714.65L255 715.16L255.8 715.66L256.6 716.14L257.4 716.6L258.2 717.05L259 717.48L259.8 717.89L260.6 718.28L261.4 718.67L262.2 719.03L263 719.38L263.8 719.72L264.6 720.04L265.4 720.34L266.2 720.64L267 720.92L267.8 721.18L268.6 721.44L269.4 721.68L270.2 721.91L271 722.13L271.8 722.33L272.6 722.53L273.4 722.72L274.2 722.89L275 723.06L275.8 723.22L276.6 723.37L277.4 723.51L278.2 723.64L279 723.77L279.8 723.89L280.6 724L281.4 724.1L282.2 724.2L283 724.29L283.8 724.38L284.6 724.46L285.4 724.53L286.2 724.61L287 724.67L287.8 724.73L288.6 724.79L289.4 724.85L290.2 724.9L291 724.94L291.8 724.99L292.6 725.03L293.4 725.06L294.2 725.1L295 725.13L295.8 725.16L296.6 725.19L297.4 725.21L298.2 725.24L299 725.26L299.8 725.28L300.6 725.3L301.4 725.32L302.2 725.33L303 725.35L303.8 725.36L304.6 725.37L305.4 725.38L306.2 725.39L307 725.4L307.8 725.41L308.6 725.42L309.4 725.43L310.2 725.43L311 725.44L311.8 725.45L312.6 725.45L313.4 725.46L314.2 725.46L315 725.46L315.8 725.47L316.6 725.47L317.4 725.47L318.2 725.48L319 725.48L319.8 725.48L320.6 725.48L321.4 725.48L322.2 725.49L323 725.49L323.8 725.49L324.6 725.49L325.4 725.49L326.2 725.49L327 725.49L327.8 725.49L328.6 725.49L329.4 725.49L330.2 725.5L331 725.5L331.8 725.5L332.6 725.5L333.4 725.5L334.2 725.5L335 725.5L335.8 725.5L336.6 725.5L337.4 725.5L338.2 725.5L339 725.5L339.8 725.5L340.6 725.5L341.4 725.5L342.2 725.5L343 725.5L343.8 725.5L344.6 725.5L345.4 725.5L346.2 725.5L347 725.5L347.8 725.5L348.6 725.5L349.4 725.5L350.2 725.5L351 725.5L351.8 725.5L352.6 725.5L353.4 725.5L354.2 725.5L355 725.5L355.8 725.5L356.6 725.5L357.4 725.5L358.2 725.5L359 725.5L359.8 725.5L360.6 725.5L361.4 725.5L362.2 725.5L363 725.5L363.8 725.5L364.6 725.5L365.4 725.5L366.2 725.5L367 725.5L367.8 725.5L368.6 725.5L369.4 725.5L370.2 725.5L371 725.5L371.8 725.5L372.6 725.5L373.4 725.5L374.2 725.5L375 725.5L375.8 725.5L376.6 725.5L377.4 725.5L378.2 725.5L379 725.5L379.8 725.5L380.6 725.5L381.4 725.5L382.2 725.5L383 725.5L383.8 725.5L384.6 725.5L385.4 725.5L386.2 725.5L387 725.5L387.8 725.5L388.6 725.5L389.4 725.5L390.2 725.5L391 725.5L391.8 725.5L392.6 725.5L392.9 725.5" fill="none" stroke="#30a858" stroke-width="1.6" stroke-linejoin="round" stroke-linecap="round"/>
<path d="M172.2 723.6L173 723.43L173.8 723.26L174.6 723.07L175.4 722.87L176.2 722.66L177 722.44L177.8 722.2L178.6 721.95L179.4 721.68L180.2 721.41L181 721.11L181.8 720.8L182.6 720.48L183.4 720.14L184.2 719.79L185 719.42L185.8 719.03L186.6 718.63L187.4 718.22L188.2 717.79L189 717.34L189.8 716.89L190.6 716.41L191.4 715.93L192.2 715.43L193 714.92L193.8 714.4L194.6 713.87L195.4 713.32L196.2 712.78L197 712.22L197.8 711.66L198.6 711.09L199.4 710.52L200.2 709.95L201 709.37L201.8 708.8L202.6 708.23L203.4 707.66L204.2 707.1L205 706.55L205.8 706.01L206.6 705.48L207.4 704.96L208.2 704.45L209 703.96L209.8 703.49L210.6 703.04L211.4 702.61L212.2 702.2L213 701.81L213.8 701.46L214.6 701.12L215.4 700.82L216.2 700.54L217 700.3L217.8 700.09L218.6 699.91L219.4 699.76L220.2 699.64L221 699.56L221.8 699.51L222.6 699.5L223.4 699.52L224.2 699.58L225 699.67L225.8 699.79L226.6 699.95L227.4 700.14L228.2 700.36L229 700.61L229.8 700.89L230.6 701.2L231.4 701.54L232.2 701.91L233 702.3L233.8 702.71L234.6 703.15L235.4 703.61L236.2 704.08L237 704.58L237.8 705.09L238.6 705.61L239.4 706.14L240.2 706.69L241 707.24L241.8 707.8L242.6 708.37L243.4 708.94L244.2 709.52L245 710.09L245.8 710.66L246.6 711.23L247.4 711.8L248.2 712.36L249 712.91L249.8 713.46L250.6 714L251.4 714.53L252.2 715.05L253 715.55L253.8 716.05L254.6 716.53L255.4 717L256.2 717.46L257 717.9L257.8 718.32L258.6 718.73L259.4 719.13L260.2 719.51L261 719.88L261.8 720.23L262.6 720.56L263.4 720.88L264.2 721.19L265 721.48L265.8 721.75L266.6 722.01L267.4 722.26L268.2 722.49L269 722.71L269.8 722.92L270.6 723.12L271.4 723.3L272.2 723.47L273 723.63L273.8 723.79L274.6 723.93L275.4 724.06L276.2 724.18L277 724.29L277.8 724.4L278.6 724.49L279.4 724.58L280.2 724.67L281 724.74L281.8 724.81L282.6 724.88L283.4 724.94L284.2 724.99L285 725.04L285.8 725.09L286.6 725.13L287.4 725.16L288.2 725.2L289 725.23L289.8 725.26L290.6 725.28L291.4 725.31L292.2 725.33L293 725.35L293.8 725.36L294.6 725.38L295.4 725.39L296.2 725.4L297 725.42L297.8 725.43L298.6 725.43L299.4 725.44L300.2 725.45L301 725.46L301.8 725.46L302.6 725.47L303.4 725.47L304.2 725.47L305 725.48L305.8 725.48L306.6 725.48L307.4 725.48L308.2 725.49L309 725.49L309.8 725.49L310.6 725.49L311.4 725.49L312.2 725.49L313 725.49L313.8 725.5L314.6 725.5L315.4 725.5L316.2 725.5L317 725.5L317.8 725.5L318.6 725.5L319.4 725.5L320.2 725.5L321 725.5L321.8 725.5L322.6 725.5L323.4 725.5L324.2 725.5L325 725.5L325.8 725.5L326.6 725.5L327.4 725.5L328.2 725.5L329 725.5L329.8 725.5L330.6 725.5L331.4 725.5L332.2 725.5L333 725.5L333.8 725.5L334.6 725.5L335.4 725.5L336.2 725.5L337 725.5L337.8 725.5L338.6 725.5L339.4 725.5L340.2 725.5L341 725.5L341.8 725.5L342.6 725.5L343.4 725.5L344.2 725.5L345 725.5L345.8 725.5L346.6 725.5L347.4 725.5L348.2 725.5L349 725.5L349.8 725.5L350.6 725.5L351.4 725.5L352.2 725.5L353 725.5L353.8 725.5L354.6 725.5L355.4 725.5L356.2 725.5L357 725.5L357.8 725.5L358.6 725.5L359.4 725.5L360.2 725.5L361 725.5L361.8 725.5L362.6 725.5L363.4 725.5L364.2 725.5L365 725.5L365.8 725.5L366.6 725.5L367.4 725.5L368.2 725.5L369 725.5L369.8 725.5L370.6 725.5L371.4 725.5L372.2 725.5L373 725.5L373.8 725.5L374.6 725.5L375.4 725.5L376.2 725.5L377 725.5L377.8 725.5L378.6 725.5L379.4 725.5L380.2 725.5L381 725.5L381.8 725.5L382.6 725.5L383.4 725.5L384.2 725.5L385 725.5L385.8 725.5L386.6 725.5L387.4 725.5L388.2 725.5L389 725.5L389.8 725.5L390.6 725.5L391.4 725.5L392.2 725.5L392.9 725.5" fill="none" stroke="#a838a8" stroke-width="1.6" stroke-linejoin="round" stroke-linecap="round"/>
<path d="M172.2 722.72L173 722.68L173.8 722.64L174.6 722.6L175.4 722.55L176.2 722.5L177 722.44L177.8 722.38L178.6 722.3L179.4 722.22L180.2 722.14L181 722.04L181.8 721.94L182.6 721.83L183.4 721.7L184.2 721.57L185 721.42L185.8 721.26L186.6 721.08L187.4 720.89L188.2 720.69L189 720.47L189.8 720.23L190.6 719.97L191.4 719.69L192.2 719.4L193 719.08L193.8 718.74L194.6 718.37L195.4 717.98L196.2 717.57L197 717.12L197.8 716.66L198.6 716.16L199.4 715.63L200.2 715.07L201 714.49L201.8 713.87L202.6 713.21L203.4 712.53L204.2 711.81L205 711.06L205.8 710.28L206.6 709.46L207.4 708.61L208.2 707.72L209 706.8L209.8 705.85L210.6 704.87L211.4 703.86L212.2 702.81L213 701.74L213.8 700.64L214.6 699.52L215.4 698.37L216.2 697.2L217 696.01L217.8 694.8L218.6 693.58L219.4 692.34L220.2 691.09L221 689.84L221.8 688.58L222.6 687.33L223.4 686.07L224.2 684.83L225 683.59L225.8 682.37L226.6 681.16L227.4 679.97L228.2 678.81L229 677.68L229.8 676.58L230.6 675.52L231.4 674.5L232.2 673.52L233 672.58L233.8 671.7L234.6 670.87L235.4 670.1L236.2 669.39L237 668.74L237.8 668.15L238.6 667.63L239.4 667.18L240.2 666.8L241 666.49L241.8 666.26L242.6 666.1L243.4 666.01L244.2 666.01L245 666.07L245.8 666.21L246.6 666.43L247.4 666.72L248.2 667.08L249 667.51L249.8 668.01L250.6 668.58L251.4 669.22L252.2 669.92L253 670.67L253.8 671.49L254.6 672.36L255.4 673.28L256.2 674.25L257 675.26L257.8 676.31L258.6 677.4L259.4 678.53L260.2 679.68L261 680.86L261.8 682.06L262.6 683.28L263.4 684.52L264.2 685.76L265 687.01L265.8 688.27L266.6 689.53L267.4 690.78L268.2 692.03L269 693.27L269.8 694.5L270.6 695.71L271.4 696.9L272.2 698.08L273 699.23L273.8 700.37L274.6 701.47L275.4 702.55L276.2 703.6L277 704.62L277.8 705.61L278.6 706.57L279.4 707.5L280.2 708.39L281 709.25L281.8 710.08L282.6 710.87L283.4 711.63L284.2 712.35L285 713.05L285.8 713.71L286.6 714.33L287.4 714.93L288.2 715.49L289 716.03L289.8 716.53L290.6 717.01L291.4 717.46L292.2 717.88L293 718.28L293.8 718.65L294.6 718.99L295.4 719.32L296.2 719.62L297 719.9L297.8 720.17L298.6 720.41L299.4 720.63L300.2 720.84L301 721.04L301.8 721.21L302.6 721.38L303.4 721.53L304.2 721.67L305 721.8L305.8 721.91L306.6 722.02L307.4 722.12L308.2 722.2L309 722.28L309.8 722.36L310.6 722.42L311.4 722.49L312.2 722.54L313 722.59L313.8 722.63L314.6 722.67L315.4 722.71L316.2 722.74L317 722.77L317.8 722.8L318.6 722.82L319.4 722.84L320.2 722.86L321 722.88L321.8 722.89L322.6 722.91L323.4 722.92L324.2 722.93L325 722.94L325.8 722.94L326.6 722.95L327.4 722.96L328.2 722.96L329 722.97L329.8 722.97L330.6 722.98L331.4 722.98L332.2 722.98L333 722.98L333.8 722.99L334.6 722.99L335.4 722.99L336.2 722.99L337 722.99L337.8 722.99L338.6 722.99L339.4 723L340.2 723L341 723L341.8 723L342.6 723L343.4 723L344.2 723L345 723L345.8 723L346.6 723L347.4 723L348.2 723L349 723L349.8 723L350.6 723L351.4 723L352.2 723L353 723L353.8 723L354.6 723L355.4 723L356.2 723L357 723L357.8 723L358.6 723L359.4 723L360.2 723L361 723L361.8 723L362.6 723L363.4 723L364.2 723L365 723L365.8 723L366.6 723L367.4 723L368.2 723L369 723L369.8 723L370.6 723L371.4 723L372.2 723L373 723L373.8 723L374.6 723L375.4 723L376.2 723L377 723L377.8 723L378.6 723L379.4 723L380.2 723L381 723L381.8 723L382.6 723L383.4 723L384.2 723L385 723L385.8 723L386.6 723L387.4 723L388.2 723L389 723L389.8 723L390.6 723L391.4 723L392.2 723L392.9 723" fill="none" stroke="#d88a38" stroke-width="1.6" stroke-linejoin="round" stroke-linecap="round"/>
<path d="M172.2 720.84L173 720.78L173.8 720.7L174.6 720.62L175.4 720.53L176.2 720.44L177 720.33L177.8 720.22L178.6 720.1L179.4 719.96L180.2 719.82L181 719.66L181.8 719.49L182.6 719.31L183.4 719.11L184.2 718.9L185 718.67L185.8 718.43L186.6 718.16L187.4 717.88L188.2 717.58L189 717.26L189.8 716.91L190.6 716.54L191.4 716.14L192.2 715.72L193 715.28L193.8 714.8L194.6 714.29L195.4 713.76L196.2 713.19L197 712.59L197.8 711.95L198.6 711.28L199.4 710.57L200.2 709.82L201 709.03L201.8 708.21L202.6 707.34L203.4 706.42L204.2 705.47L205 704.47L205.8 703.43L206.6 702.34L207.4 701.2L208.2 700.01L209 698.78L209.8 697.5L210.6 696.18L211.4 694.8L212.2 693.38L213 691.9L213.8 690.39L214.6 688.82L215.4 687.21L216.2 685.55L217 683.85L217.8 682.1L218.6 680.31L219.4 678.48L220.2 676.62L221 674.71L221.8 672.78L222.6 670.8L223.4 668.8L224.2 666.78L225 664.73L225.8 662.65L226.6 660.56L227.4 658.46L228.2 656.34L229 654.22L229.8 652.09L230.6 649.96L231.4 647.84L232.2 645.73L233 643.63L233.8 641.55L234.6 639.49L235.4 637.45L236.2 635.45L237 633.48L237.8 631.55L238.6 629.67L239.4 627.84L240.2 626.06L241 624.34L241.8 622.68L242.6 621.09L243.4 619.57L244.2 618.12L245 616.76L245.8 615.47L246.6 614.27L247.4 613.16L248.2 612.15L249 611.22L249.8 610.4L250.6 609.67L251.4 609.05L252.2 608.53L253 608.11L253.8 607.8L254.6 607.6L255.4 607.51L256.2 607.53L257 607.68L257.8 607.97L258.6 608.4L259.4 608.97L260.2 609.66L261 610.49L261.8 611.44L262.6 612.52L263.4 613.71L264.2 615.03L265 616.45L265.8 617.98L266.6 619.61L267.4 621.34L268.2 623.15L269 625.05L269.8 627.03L270.6 629.08L271.4 631.19L272.2 633.36L273 635.59L273.8 637.86L274.6 640.17L275.4 642.51L276.2 644.87L277 647.25L277.8 649.65L278.6 652.05L279.4 654.46L280.2 656.86L281 659.25L281.8 661.62L282.6 663.97L283.4 666.3L284.2 668.6L285 670.86L285.8 673.08L286.6 675.27L287.4 677.4L288.2 679.49L289 681.53L289.8 683.52L290.6 685.45L291.4 687.32L292.2 689.14L293 690.89L293.8 692.59L294.6 694.23L295.4 695.8L296.2 697.31L297 698.76L297.8 700.15L298.6 701.48L299.4 702.75L300.2 703.96L301 705.11L301.8 706.21L302.6 707.24L303.4 708.23L304.2 709.16L305 710.04L305.8 710.87L306.6 711.65L307.4 712.39L308.2 713.08L309 713.72L309.8 714.33L310.6 714.9L311.4 715.43L312.2 715.92L313 716.38L313.8 716.81L314.6 717.21L315.4 717.57L316.2 717.92L317 718.23L317.8 718.52L318.6 718.79L319.4 719.04L320.2 719.27L321 719.47L321.8 719.67L322.6 719.84L323.4 720L324.2 720.15L325 720.28L325.8 720.4L326.6 720.51L327.4 720.62L328.2 720.71L329 720.79L329.8 720.86L330.6 720.93L331.4 720.99L332.2 721.05L333 721.1L333.8 721.14L334.6 721.18L335.4 721.22L336.2 721.25L337 721.28L337.8 721.3L338.6 721.33L339.4 721.35L340.2 721.37L341 721.38L341.8 721.4L342.6 721.41L343.4 721.42L344.2 721.43L345 721.44L345.8 721.45L346.6 721.45L347.4 721.46L348.2 721.46L349 721.47L349.8 721.47L350.6 721.48L351.4 721.48L352.2 721.48L353 721.49L353.8 721.49L354.6 721.49L355.4 721.49L356.2 721.49L357 721.49L357.8 721.49L358.6 721.49L359.4 721.5L360.2 721.5L361 721.5L361.8 721.5L362.6 721.5L363.4 721.5L364.2 721.5L365 721.5L365.8 721.5L366.6 721.5L367.4 721.5L368.2 721.5L369 721.5L369.8 721.5L370.6 721.5L371.4 721.5L372.2 721.5L373 721.5L373.8 721.5L374.6 721.5L375.4 721.5L376.2 721.5L377 721.5L377.8 721.5L378.6 721.5L379.4 721.5L380.2 721.5L381 721.5L381.8 721.5L382.6 721.5L383.4 721.5L384.2 721.5L385 721.5L385.8 721.5L386.6 721.5L387.4 721.5L388.2 721.5L389 721.5L389.8 721.5L390.6 721.5L391.4 721.5L392.2 721.5L392.9 721.5" fill="none" stroke="#44a2b8" stroke-width="1.6" stroke-linejoin="round" stroke-linecap="round"/>
<path d="M172.2 720.79L173 720.77L173.8 720.75L174.6 720.72L175.4 720.69L176.2 720.65L177 720.62L177.8 720.58L178.6 720.53L179.4 720.48L180.2 720.43L181 720.37L181.8 720.31L182.6 720.24L183.4 720.16L184.2 720.08L185 719.99L185.8 719.89L186.6 719.78L187.4 719.67L188.2 719.54L189 719.41L189.8 719.26L190.6 719.11L191.4 718.94L192.2 718.75L193 718.55L193.8 718.34L194.6 718.11L195.4 717.87L196.2 717.6L197 717.32L197.8 717.02L198.6 716.69L199.4 716.35L200.2 715.98L201 715.59L201.8 715.17L202.6 714.72L203.4 714.25L204.2 713.74L205 713.21L205.8 712.64L206.6 712.04L207.4 711.4L208.2 710.73L209 710.02L209.8 709.28L210.6 708.49L211.4 707.66L212.2 706.79L213 705.88L213.8 704.92L214.6 703.92L215.4 702.87L216.2 701.77L217 700.62L217.8 699.42L218.6 698.18L219.4 696.88L220.2 695.53L221 694.13L221.8 692.67L222.6 691.17L223.4 689.61L224.2 688L225 686.33L225.8 684.62L226.6 682.85L227.4 681.04L228.2 679.17L229 677.25L229.8 675.29L230.6 673.28L231.4 671.23L232.2 669.13L233 666.99L233.8 664.82L234.6 662.61L235.4 660.36L236.2 658.08L237 655.78L237.8 653.44L238.6 651.09L239.4 648.72L240.2 646.33L241 643.94L241.8 641.53L242.6 639.12L243.4 636.72L244.2 634.31L245 631.92L245.8 629.55L246.6 627.19L247.4 624.85L248.2 622.55L249 620.27L249.8 618.04L250.6 615.85L251.4 613.7L252.2 611.61L253 609.57L253.8 607.6L254.6 605.69L255.4 603.86L256.2 602.09L257 600.41L257.8 598.81L258.6 597.3L259.4 595.88L260.2 594.56L261 593.33L261.8 592.2L262.6 591.18L263.4 590.27L264.2 589.46L265 588.77L265.8 588.19L266.6 587.72L267.4 587.37L268.2 587.13L269 587.01L269.8 587.02L270.6 587.15L271.4 587.43L272.2 587.84L273 588.38L273.8 589.06L274.6 589.87L275.4 590.8L276.2 591.87L277 593.05L277.8 594.35L278.6 595.77L279.4 597.3L280.2 598.94L281 600.68L281.8 602.51L282.6 604.44L283.4 606.45L284.2 608.54L285 610.71L285.8 612.94L286.6 615.24L287.4 617.6L288.2 620L289 622.46L289.8 624.95L290.6 627.47L291.4 630.02L292.2 632.59L293 635.18L293.8 637.77L294.6 640.38L295.4 642.97L296.2 645.57L297 648.15L297.8 650.71L298.6 653.26L299.4 655.78L300.2 658.26L301 660.72L301.8 663.14L302.6 665.52L303.4 667.85L304.2 670.14L305 672.38L305.8 674.57L306.6 676.71L307.4 678.79L308.2 680.82L309 682.78L309.8 684.69L310.6 686.54L311.4 688.32L312.2 690.05L313 691.72L313.8 693.32L314.6 694.86L315.4 696.34L316.2 697.77L317 699.13L317.8 700.43L318.6 701.68L319.4 702.87L320.2 704L321 705.08L321.8 706.1L322.6 707.08L323.4 708L324.2 708.87L325 709.7L325.8 710.48L326.6 711.22L327.4 711.91L328.2 712.57L329 713.18L329.8 713.76L330.6 714.3L331.4 714.81L332.2 715.29L333 715.73L333.8 716.15L334.6 716.53L335.4 716.89L336.2 717.23L337 717.54L337.8 717.83L338.6 718.09L339.4 718.34L340.2 718.57L341 718.78L341.8 718.98L342.6 719.16L343.4 719.32L344.2 719.48L345 719.62L345.8 719.74L346.6 719.86L347.4 719.97L348.2 720.07L349 720.16L349.8 720.24L350.6 720.31L351.4 720.38L352.2 720.44L353 720.5L353.8 720.55L354.6 720.6L355.4 720.64L356.2 720.68L357 720.71L357.8 720.74L358.6 720.77L359.4 720.79L360.2 720.82L361 720.84L361.8 720.86L362.6 720.87L363.4 720.89L364.2 720.9L365 720.91L365.8 720.92L366.6 720.93L367.4 720.94L368.2 720.95L369 720.95L369.8 720.96L370.6 720.96L371.4 720.97L372.2 720.97L373 720.97L373.8 720.98L374.6 720.98L375.4 720.98L376.2 720.99L377 720.99L377.8 720.99L378.6 720.99L379.4 720.99L380.2 720.99L381 720.99L381.8 720.99L382.6 721L383.4 721L384.2 721L385 721L385.8 721L386.6 721L387.4 721L388.2 721L389 721L389.8 721L390.6 721L391.4 721L392.2 721L392.9 721" fill="none" stroke="#a81c26" stroke-width="1.6" stroke-linejoin="round" stroke-linecap="round"/>
<path d="M172.2 723.5L173 723.5L173.8 723.5L174.6 723.5L175.4 723.5L176.2 723.5L177 723.5L177.8 723.49L178.6 723.49L179.4 723.49L180.2 723.49L181 723.49L181.8 723.49L182.6 723.49L183.4 723.48L184.2 723.48L185 723.48L185.8 723.48L186.6 723.47L187.4 723.47L188.2 723.46L189 723.46L189.8 723.45L190.6 723.44L191.4 723.44L192.2 723.43L193 723.42L193.8 723.41L194.6 723.39L195.4 723.38L196.2 723.36L197 723.34L197.8 723.32L198.6 723.3L199.4 723.28L200.2 723.25L201 723.21L201.8 723.18L202.6 723.14L203.4 723.1L204.2 723.05L205 722.99L205.8 722.94L206.6 722.87L207.4 722.8L208.2 722.72L209 722.63L209.8 722.53L210.6 722.43L211.4 722.31L212.2 722.19L213 722.05L213.8 721.9L214.6 721.73L215.4 721.55L216.2 721.36L217 721.15L217.8 720.92L218.6 720.67L219.4 720.4L220.2 720.11L221 719.8L221.8 719.46L222.6 719.1L223.4 718.72L224.2 718.3L225 717.86L225.8 717.38L226.6 716.88L227.4 716.34L228.2 715.76L229 715.15L229.8 714.51L230.6 713.82L231.4 713.09L232.2 712.33L233 711.52L233.8 710.67L234.6 709.77L235.4 708.83L236.2 707.85L237 706.82L237.8 705.74L238.6 704.61L239.4 703.44L240.2 702.22L241 700.96L241.8 699.65L242.6 698.29L243.4 696.89L244.2 695.44L245 693.95L245.8 692.42L246.6 690.85L247.4 689.24L248.2 687.59L249 685.92L249.8 684.21L250.6 682.47L251.4 680.71L252.2 678.93L253 677.13L253.8 675.31L254.6 673.48L255.4 671.65L256.2 669.81L257 667.98L257.8 666.16L258.6 664.34L259.4 662.54L260.2 660.77L261 659.01L261.8 657.3L262.6 655.61L263.4 653.97L264.2 652.38L265 650.83L265.8 649.34L266.6 647.92L267.4 646.56L268.2 645.27L269 644.05L269.8 642.91L270.6 641.86L271.4 640.89L272.2 640.01L273 639.22L273.8 638.53L274.6 637.94L275.4 637.45L276.2 637.05L277 636.77L277.8 636.58L278.6 636.5L279.4 636.53L280.2 636.68L281 636.93L281.8 637.31L282.6 637.79L283.4 638.38L284.2 639.08L285 639.89L285.8 640.79L286.6 641.8L287.4 642.9L288.2 644.09L289 645.37L289.8 646.72L290.6 648.16L291.4 649.66L292.2 651.23L293 652.86L293.8 654.54L294.6 656.28L295.4 658.05L296.2 659.87L297 661.71L297.8 663.58L298.6 665.47L299.4 667.38L300.2 669.29L301 671.21L301.8 673.13L302.6 675.04L303.4 676.94L304.2 678.82L305 680.69L305.8 682.53L306.6 684.35L307.4 686.13L308.2 687.88L309 689.59L309.8 691.26L310.6 692.89L311.4 694.48L312.2 696.02L313 697.51L313.8 698.96L314.6 700.35L315.4 701.7L316.2 702.99L317 704.23L317.8 705.42L318.6 706.56L319.4 707.65L320.2 708.69L321 709.68L321.8 710.62L322.6 711.51L323.4 712.36L324.2 713.15L325 713.91L325.8 714.62L326.6 715.29L327.4 715.92L328.2 716.51L329 717.06L329.8 717.58L330.6 718.06L331.4 718.51L332.2 718.93L333 719.32L333.8 719.68L334.6 720.01L335.4 720.32L336.2 720.61L337 720.87L337.8 721.11L338.6 721.34L339.4 721.54L340.2 721.73L341 721.9L341.8 722.06L342.6 722.2L343.4 722.33L344.2 722.45L345 722.56L345.8 722.66L346.6 722.75L347.4 722.83L348.2 722.9L349 722.96L349.8 723.02L350.6 723.08L351.4 723.12L352.2 723.17L353 723.21L353.8 723.24L354.6 723.27L355.4 723.3L356.2 723.32L357 723.34L357.8 723.36L358.6 723.38L359.4 723.39L360.2 723.41L361 723.42L361.8 723.43L362.6 723.44L363.4 723.45L364.2 723.45L365 723.46L365.8 723.47L366.6 723.47L367.4 723.47L368.2 723.48L369 723.48L369.8 723.48L370.6 723.49L371.4 723.49L372.2 723.49L373 723.49L373.8 723.49L374.6 723.49L375.4 723.49L376.2 723.5L377 723.5L377.8 723.5L378.6 723.5L379.4 723.5L380.2 723.5L381 723.5L381.8 723.5L382.6 723.5L383.4 723.5L384.2 723.5L385 723.5L385.8 723.5L386.6 723.5L387.4 723.5L388.2 723.5L389 723.5L389.8 723.5L390.6 723.5L391.4 723.5L392.2 723.5L392.9 723.5" fill="none" stroke="#3a38a6" stroke-width="1.6" stroke-linejoin="round" stroke-linecap="round"/>
<path d="M172.2 725.5L173 725.5L173.8 725.5L174.6 725.5L175.4 725.5L176.2 725.5L177 725.5L177.8 725.5L178.6 725.5L179.4 725.5L180.2 725.5L181 725.5L181.8 725.5L182.6 725.5L183.4 725.5L184.2 725.5L185 725.5L185.8 725.5L186.6 725.5L187.4 725.5L188.2 725.5L189 725.5L189.8 725.5L190.6 725.5L191.4 725.5L192.2 725.5L193 725.5L193.8 725.5L194.6 725.5L195.4 725.5L196.2 725.5L197 725.5L197.8 725.5L198.6 725.5L199.4 725.5L200.2 725.5L201 725.5L201.8 725.5L202.6 725.5L203.4 725.5L204.2 725.5L205 725.5L205.8 725.5L206.6 725.5L207.4 725.5L208.2 725.5L209 725.5L209.8 725.5L210.6 725.5L211.4 725.5L212.2 725.5L213 725.5L213.8 725.5L214.6 725.5L215.4 725.5L216.2 725.5L217 725.49L217.8 725.49L218.6 725.49L219.4 725.49L220.2 725.49L221 725.48L221.8 725.48L222.6 725.48L223.4 725.47L224.2 725.47L225 725.46L225.8 725.45L226.6 725.44L227.4 725.43L228.2 725.42L229 725.41L229.8 725.39L230.6 725.37L231.4 725.35L232.2 725.32L233 725.29L233.8 725.26L234.6 725.22L235.4 725.17L236.2 725.12L237 725.06L237.8 724.99L238.6 724.92L239.4 724.83L240.2 724.73L241 724.62L241.8 724.5L242.6 724.36L243.4 724.21L244.2 724.03L245 723.84L245.8 723.63L246.6 723.39L247.4 723.13L248.2 722.84L249 722.53L249.8 722.18L250.6 721.81L251.4 721.39L252.2 720.95L253 720.46L253.8 719.94L254.6 719.38L255.4 718.77L256.2 718.12L257 717.43L257.8 716.69L258.6 715.9L259.4 715.07L260.2 714.18L261 713.26L261.8 712.28L262.6 711.26L263.4 710.19L264.2 709.08L265 707.93L265.8 706.74L266.6 705.51L267.4 704.25L268.2 702.96L269 701.64L269.8 700.3L270.6 698.95L271.4 697.58L272.2 696.22L273 694.85L273.8 693.49L274.6 692.14L275.4 690.81L276.2 689.51L277 688.24L277.8 687.01L278.6 685.84L279.4 684.71L280.2 683.65L281 682.65L281.8 681.73L282.6 680.88L283.4 680.12L284.2 679.45L285 678.88L285.8 678.4L286.6 678.02L287.4 677.74L288.2 677.57L289 677.5L289.8 677.54L290.6 677.69L291.4 677.94L292.2 678.29L293 678.75L293.8 679.3L294.6 679.95L295.4 680.69L296.2 681.51L297 682.41L297.8 683.39L298.6 684.44L299.4 685.55L300.2 686.71L301 687.93L301.8 689.19L302.6 690.48L303.4 691.8L304.2 693.15L305 694.51L305.8 695.87L306.6 697.24L307.4 698.61L308.2 699.97L309 701.31L309.8 702.63L310.6 703.93L311.4 705.2L312.2 706.43L313 707.63L313.8 708.8L314.6 709.92L315.4 710.99L316.2 712.03L317 713.02L317.8 713.96L318.6 714.85L319.4 715.7L320.2 716.49L321 717.25L321.8 717.95L322.6 718.61L323.4 719.23L324.2 719.8L325 720.34L325.8 720.83L326.6 721.29L327.4 721.71L328.2 722.09L329 722.44L329.8 722.77L330.6 723.06L331.4 723.33L332.2 723.57L333 723.79L333.8 723.99L334.6 724.16L335.4 724.32L336.2 724.47L337 724.59L337.8 724.71L338.6 724.81L339.4 724.9L340.2 724.98L341 725.05L341.8 725.11L342.6 725.16L343.4 725.21L344.2 725.25L345 725.28L345.8 725.32L346.6 725.34L347.4 725.37L348.2 725.39L349 725.4L349.8 725.42L350.6 725.43L351.4 725.44L352.2 725.45L353 725.46L353.8 725.47L354.6 725.47L355.4 725.48L356.2 725.48L357 725.48L357.8 725.49L358.6 725.49L359.4 725.49L360.2 725.49L361 725.49L361.8 725.49L362.6 725.5L363.4 725.5L364.2 725.5L365 725.5L365.8 725.5L366.6 725.5L367.4 725.5L368.2 725.5L369 725.5L369.8 725.5L370.6 725.5L371.4 725.5L372.2 725.5L373 725.5L373.8 725.5L374.6 725.5L375.4 725.5L376.2 725.5L377 725.5L377.8 725.5L378.6 725.5L379.4 725.5L380.2 725.5L381 725.5L381.8 725.5L382.6 725.5L383.4 725.5L384.2 725.5L385 725.5L385.8 725.5L386.6 725.5L387.4 725.5L388.2 725.5L389 725.5L389.8 725.5L390.6 725.5L391.4 725.5L392.2 725.5L392.9 725.5" fill="none" stroke="#d63a3a" stroke-width="1.6" stroke-linejoin="round" stroke-linecap="round"/>
<path d="M172.2 730.3L173 730.3L173.8 730.3L174.6 730.3L175.4 730.3L176.2 730.3L177 730.3L177.8 730.29L178.6 730.29L179.4 730.29L180.2 730.29L181 730.29L181.8 730.29L182.6 730.29L183.4 730.29L184.2 730.29L185 730.29L185.8 730.28L186.6 730.28L187.4 730.28L188.2 730.28L189 730.28L189.8 730.27L190.6 730.27L191.4 730.27L192.2 730.26L193 730.26L193.8 730.26L194.6 730.25L195.4 730.25L196.2 730.24L197 730.23L197.8 730.23L198.6 730.22L199.4 730.21L200.2 730.2L201 730.19L201.8 730.18L202.6 730.17L203.4 730.16L204.2 730.15L205 730.13L205.8 730.12L206.6 730.1L207.4 730.08L208.2 730.06L209 730.04L209.8 730.02L210.6 729.99L211.4 729.97L212.2 729.94L213 729.91L213.8 729.88L214.6 729.84L215.4 729.8L216.2 729.76L217 729.72L217.8 729.68L218.6 729.63L219.4 729.58L220.2 729.52L221 729.46L221.8 729.4L222.6 729.33L223.4 729.26L224.2 729.19L225 729.11L225.8 729.03L226.6 728.94L227.4 728.84L228.2 728.75L229 728.64L229.8 728.53L230.6 728.42L231.4 728.3L232.2 728.17L233 728.04L233.8 727.9L234.6 727.76L235.4 727.6L236.2 727.45L237 727.28L237.8 727.11L238.6 726.93L239.4 726.74L240.2 726.55L241 726.35L241.8 726.14L242.6 725.92L243.4 725.7L244.2 725.47L245 725.23L245.8 724.98L246.6 724.73L247.4 724.47L248.2 724.2L249 723.93L249.8 723.64L250.6 723.36L251.4 723.06L252.2 722.76L253 722.45L253.8 722.14L254.6 721.82L255.4 721.49L256.2 721.16L257 720.83L257.8 720.49L258.6 720.15L259.4 719.8L260.2 719.46L261 719.11L261.8 718.75L262.6 718.4L263.4 718.04L264.2 717.69L265 717.33L265.8 716.98L266.6 716.63L267.4 716.28L268.2 715.93L269 715.58L269.8 715.24L270.6 714.91L271.4 714.58L272.2 714.25L273 713.94L273.8 713.63L274.6 713.32L275.4 713.03L276.2 712.75L277 712.47L277.8 712.21L278.6 711.96L279.4 711.71L280.2 711.49L281 711.27L281.8 711.07L282.6 710.88L283.4 710.7L284.2 710.54L285 710.4L285.8 710.27L286.6 710.15L287.4 710.05L288.2 709.97L289 709.9L289.8 709.85L290.6 709.82L291.4 709.8L292.2 709.8L293 709.82L293.8 709.85L294.6 709.9L295.4 709.97L296.2 710.05L297 710.15L297.8 710.27L298.6 710.4L299.4 710.54L300.2 710.7L301 710.88L301.8 711.07L302.6 711.27L303.4 711.49L304.2 711.71L305 711.96L305.8 712.21L306.6 712.47L307.4 712.75L308.2 713.03L309 713.32L309.8 713.63L310.6 713.94L311.4 714.25L312.2 714.58L313 714.91L313.8 715.24L314.6 715.58L315.4 715.93L316.2 716.28L317 716.63L317.8 716.98L318.6 717.33L319.4 717.69L320.2 718.04L321 718.4L321.8 718.75L322.6 719.11L323.4 719.46L324.2 719.8L325 720.15L325.8 720.49L326.6 720.83L327.4 721.16L328.2 721.49L329 721.82L329.8 722.14L330.6 722.45L331.4 722.76L332.2 723.06L333 723.36L333.8 723.64L334.6 723.93L335.4 724.2L336.2 724.47L337 724.73L337.8 724.98L338.6 725.23L339.4 725.47L340.2 725.7L341 725.92L341.8 726.14L342.6 726.35L343.4 726.55L344.2 726.74L345 726.93L345.8 727.11L346.6 727.28L347.4 727.45L348.2 727.6L349 727.76L349.8 727.9L350.6 728.04L351.4 728.17L352.2 728.3L353 728.42L353.8 728.53L354.6 728.64L355.4 728.75L356.2 728.84L357 728.94L357.8 729.03L358.6 729.11L359.4 729.19L360.2 729.26L361 729.33L361.8 729.4L362.6 729.46L363.4 729.52L364.2 729.58L365 729.63L365.8 729.68L366.6 729.72L367.4 729.76L368.2 729.8L369 729.84L369.8 729.88L370.6 729.91L371.4 729.94L372.2 729.97L373 729.99L373.8 730.02L374.6 730.04L375.4 730.06L376.2 730.08L377 730.1L377.8 730.12L378.6 730.13L379.4 730.15L380.2 730.16L381 730.17L381.8 730.18L382.6 730.19L383.4 730.2L384.2 730.21L385 730.22L385.8 730.23L386.6 730.23L387.4 730.24L388.2 730.25L389 730.25L389.8 730.26L390.6 730.26L391.4 730.26L392.2 730.27L392.9 730.27" fill="none" stroke="#6cc84a" stroke-width="1.6" stroke-linejoin="round" stroke-linecap="round"/>
<path d="M268.1 577.5V730.5" stroke="#5a8cb8" stroke-width="1.1" stroke-dasharray="3 2"/>
<path d="M171.7 561V731.5H393.4V561Z" fill="none" stroke="#000" stroke-width="1.8" stroke-linejoin="round"/>
<text x="244.8" y="571.2" font-size="8.8" fill="#161616" stroke="#161616" stroke-width="0.18">λ<tspan font-size="6.6" dy="2.5">max</tspan><tspan dy="-2.5"> = 473 nm</tspan></text>
<path d="M338 576.5H352.9" stroke="#4a78a8" stroke-width="2"/>
<text x="357.5" y="579.13" font-size="7.3" textLength="24.2" lengthAdjust="spacingAndGlyphs" fill="#161616" stroke="#161616" stroke-width="0.18">300 nm</text>
<path d="M338 592.19H352.9" stroke="#30a858" stroke-width="2"/>
<text x="357.5" y="594.82" font-size="7.3" textLength="24.2" lengthAdjust="spacingAndGlyphs" fill="#161616" stroke="#161616" stroke-width="0.18">320 nm</text>
<path d="M338 607.88H352.9" stroke="#a838a8" stroke-width="2"/>
<text x="357.5" y="610.51" font-size="7.3" textLength="24.2" lengthAdjust="spacingAndGlyphs" fill="#161616" stroke="#161616" stroke-width="0.18">340 nm</text>
<path d="M338 623.57H352.9" stroke="#d88a38" stroke-width="2"/>
<text x="357.5" y="626.2" font-size="7.3" textLength="24.2" lengthAdjust="spacingAndGlyphs" fill="#161616" stroke="#161616" stroke-width="0.18">360 nm</text>
<path d="M338 639.26H352.9" stroke="#44a2b8" stroke-width="2"/>
<text x="357.5" y="641.89" font-size="7.3" textLength="24.2" lengthAdjust="spacingAndGlyphs" fill="#161616" stroke="#161616" stroke-width="0.18">380 nm</text>
<path d="M338 654.95H352.9" stroke="#a81c26" stroke-width="2"/>
<text x="357.5" y="657.58" font-size="7.3" textLength="24.2" lengthAdjust="spacingAndGlyphs" fill="#161616" stroke="#161616" stroke-width="0.18">400 nm</text>
<path d="M338 670.64H352.9" stroke="#3a38a6" stroke-width="2"/>
<text x="357.5" y="673.27" font-size="7.3" textLength="24.2" lengthAdjust="spacingAndGlyphs" fill="#161616" stroke="#161616" stroke-width="0.18">420 nm</text>
<path d="M338 686.33H352.9" stroke="#d63a3a" stroke-width="2"/>
<text x="357.5" y="688.96" font-size="7.3" textLength="24.2" lengthAdjust="spacingAndGlyphs" fill="#161616" stroke="#161616" stroke-width="0.18">440 nm</text>
<path d="M338 702.02H352.9" stroke="#6cc84a" stroke-width="2"/>
<text x="357.5" y="704.65" font-size="7.3" textLength="24.2" lengthAdjust="spacingAndGlyphs" fill="#161616" stroke="#161616" stroke-width="0.18">460 nm</text>
</svg>
</body></html>
